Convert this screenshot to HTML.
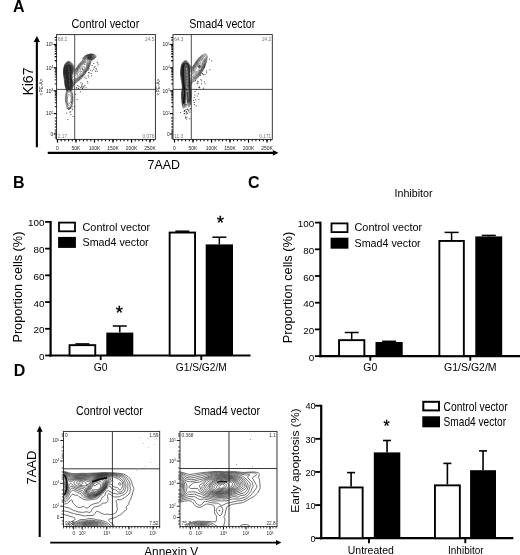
<!DOCTYPE html>
<html><head><meta charset="utf-8"><title>Figure</title>
<style>
html,body{margin:0;padding:0;background:#fff;overflow:hidden;}
svg{display:block;}
svg text{font-family:"Liberation Sans",Arial,sans-serif;}
</style></head>
<body>
<svg width="520" height="555" viewBox="0 0 520 555">
<rect width="520" height="555" fill="#fff"/>
<text x="13.1" y="11.8" font-size="16" text-anchor="start" fill="#000" font-weight="bold" >A</text>
<text x="13" y="187.7" font-size="16" text-anchor="start" fill="#000" font-weight="bold" >B</text>
<text x="248" y="187.6" font-size="16" text-anchor="start" fill="#000" font-weight="bold" >C</text>
<text x="13.8" y="375.7" font-size="16" text-anchor="start" fill="#000" font-weight="bold" >D</text>
<rect x="56.6" y="34.6" width="98.80000000000001" height="104.80000000000001" fill="none" stroke="#222" stroke-width="0.9"/>
<line x1="74.7" y1="34.6" x2="74.7" y2="139.4" stroke="#222" stroke-width="0.8" />
<line x1="56.6" y1="89.4" x2="155.4" y2="89.4" stroke="#222" stroke-width="0.8" />
<text x="53.4" y="46.2" font-size="5" text-anchor="end" fill="#222" >10<tspan dy="-1.7" font-size="3.2">5</tspan></text>
<line x1="53.7" y1="44.5" x2="56.6" y2="44.5" stroke="#000" stroke-width="1.2" />
<text x="53.4" y="69.5" font-size="5" text-anchor="end" fill="#222" >10<tspan dy="-1.7" font-size="3.2">4</tspan></text>
<line x1="53.7" y1="67.8" x2="56.6" y2="67.8" stroke="#000" stroke-width="1.2" />
<text x="53.4" y="92.5" font-size="5" text-anchor="end" fill="#222" >10<tspan dy="-1.7" font-size="3.2">3</tspan></text>
<line x1="53.7" y1="90.8" x2="56.6" y2="90.8" stroke="#000" stroke-width="1.2" />
<text x="53.4" y="115.3" font-size="5" text-anchor="end" fill="#222" >10<tspan dy="-1.7" font-size="3.2">2</tspan></text>
<line x1="53.7" y1="113.6" x2="56.6" y2="113.6" stroke="#000" stroke-width="1.2" />
<text x="53.4" y="135.7" font-size="5" text-anchor="end" fill="#222" >0</text>
<line x1="53.7" y1="134" x2="56.6" y2="134" stroke="#000" stroke-width="1.2" />
<line x1="54.800000000000004" y1="60.786001101029235" x2="56.6" y2="60.786001101029235" stroke="#000" stroke-width="1.0" />
<line x1="54.800000000000004" y1="56.68307476503186" x2="56.6" y2="56.68307476503186" stroke="#000" stroke-width="1.0" />
<line x1="54.800000000000004" y1="53.772002202058474" x2="56.6" y2="53.772002202058474" stroke="#000" stroke-width="1.0" />
<line x1="54.800000000000004" y1="51.513998898970755" x2="56.6" y2="51.513998898970755" stroke="#000" stroke-width="1.0" />
<line x1="54.800000000000004" y1="49.66907586606111" x2="56.6" y2="49.66907586606111" stroke="#000" stroke-width="1.0" />
<line x1="54.800000000000004" y1="48.10921566766781" x2="56.6" y2="48.10921566766781" stroke="#000" stroke-width="1.0" />
<line x1="54.800000000000004" y1="46.75800330308772" x2="56.6" y2="46.75800330308772" stroke="#000" stroke-width="1.0" />
<line x1="54.800000000000004" y1="45.566149530063726" x2="56.6" y2="45.566149530063726" stroke="#000" stroke-width="1.0" />
<line x1="54.800000000000004" y1="83.87631009972843" x2="56.6" y2="83.87631009972843" stroke="#000" stroke-width="1.0" />
<line x1="54.800000000000004" y1="79.82621114144776" x2="56.6" y2="79.82621114144776" stroke="#000" stroke-width="1.0" />
<line x1="54.800000000000004" y1="76.95262019945686" x2="56.6" y2="76.95262019945686" stroke="#000" stroke-width="1.0" />
<line x1="54.800000000000004" y1="74.72368990027157" x2="56.6" y2="74.72368990027157" stroke="#000" stroke-width="1.0" />
<line x1="54.800000000000004" y1="72.90252124117619" x2="56.6" y2="72.90252124117619" stroke="#000" stroke-width="1.0" />
<line x1="54.800000000000004" y1="71.3627450796721" x2="56.6" y2="71.3627450796721" stroke="#000" stroke-width="1.0" />
<line x1="54.800000000000004" y1="70.02893029918529" x2="56.6" y2="70.02893029918529" stroke="#000" stroke-width="1.0" />
<line x1="54.800000000000004" y1="68.85242228289553" x2="56.6" y2="68.85242228289553" stroke="#000" stroke-width="1.0" />
<line x1="54.800000000000004" y1="106.73651609886123" x2="56.6" y2="106.73651609886123" stroke="#000" stroke-width="1.0" />
<line x1="54.800000000000004" y1="102.72163539239169" x2="56.6" y2="102.72163539239169" stroke="#000" stroke-width="1.0" />
<line x1="54.800000000000004" y1="99.87303219772245" x2="56.6" y2="99.87303219772245" stroke="#000" stroke-width="1.0" />
<line x1="54.800000000000004" y1="97.66348390113876" x2="56.6" y2="97.66348390113876" stroke="#000" stroke-width="1.0" />
<line x1="54.800000000000004" y1="95.85815149125293" x2="56.6" y2="95.85815149125293" stroke="#000" stroke-width="1.0" />
<line x1="54.800000000000004" y1="94.33176468767493" x2="56.6" y2="94.33176468767493" stroke="#000" stroke-width="1.0" />
<line x1="54.800000000000004" y1="93.00954829658369" x2="56.6" y2="93.00954829658369" stroke="#000" stroke-width="1.0" />
<line x1="54.800000000000004" y1="91.84327078478339" x2="56.6" y2="91.84327078478339" stroke="#000" stroke-width="1.0" />
<line x1="54.800000000000004" y1="60.786001101029235" x2="56.6" y2="60.786001101029235" stroke="#000" stroke-width="1.0" />
<line x1="54.800000000000004" y1="56.68307476503186" x2="56.6" y2="56.68307476503186" stroke="#000" stroke-width="1.0" />
<line x1="54.800000000000004" y1="53.772002202058474" x2="56.6" y2="53.772002202058474" stroke="#000" stroke-width="1.0" />
<line x1="54.800000000000004" y1="37.5" x2="56.6" y2="37.5" stroke="#000" stroke-width="1.0" />
<line x1="54.800000000000004" y1="40" x2="56.6" y2="40" stroke="#000" stroke-width="1.0" />
<line x1="54.800000000000004" y1="118" x2="56.6" y2="118" stroke="#000" stroke-width="1.0" />
<line x1="54.800000000000004" y1="121" x2="56.6" y2="121" stroke="#000" stroke-width="1.0" />
<line x1="54.800000000000004" y1="124" x2="56.6" y2="124" stroke="#000" stroke-width="1.0" />
<line x1="54.800000000000004" y1="127" x2="56.6" y2="127" stroke="#000" stroke-width="1.0" />
<line x1="54.800000000000004" y1="130" x2="56.6" y2="130" stroke="#000" stroke-width="1.0" />
<line x1="54.800000000000004" y1="132" x2="56.6" y2="132" stroke="#000" stroke-width="1.0" />
<line x1="54.800000000000004" y1="136" x2="56.6" y2="136" stroke="#000" stroke-width="1.0" />
<line x1="54.800000000000004" y1="138" x2="56.6" y2="138" stroke="#000" stroke-width="1.0" />
<line x1="57.5" y1="139.4" x2="57.5" y2="142.6" stroke="#000" stroke-width="1.2" />
<text x="57.5" y="149.6" font-size="5" text-anchor="middle" fill="#222" >0</text>
<line x1="76" y1="139.4" x2="76" y2="142.6" stroke="#000" stroke-width="1.2" />
<text x="76" y="149.6" font-size="5" text-anchor="middle" fill="#222" >50K</text>
<line x1="94.5" y1="139.4" x2="94.5" y2="142.6" stroke="#000" stroke-width="1.2" />
<text x="94.5" y="149.6" font-size="5" text-anchor="middle" fill="#222" >100K</text>
<line x1="113" y1="139.4" x2="113" y2="142.6" stroke="#000" stroke-width="1.2" />
<text x="113" y="149.6" font-size="5" text-anchor="middle" fill="#222" >150K</text>
<line x1="131.5" y1="139.4" x2="131.5" y2="142.6" stroke="#000" stroke-width="1.2" />
<text x="131.5" y="149.6" font-size="5" text-anchor="middle" fill="#222" >200K</text>
<line x1="150" y1="139.4" x2="150" y2="142.6" stroke="#000" stroke-width="1.2" />
<text x="150" y="149.6" font-size="5" text-anchor="middle" fill="#222" >250K</text>
<line x1="57.5" y1="139.4" x2="57.5" y2="141.3" stroke="#000" stroke-width="1.0" />
<line x1="61.2" y1="139.4" x2="61.2" y2="141.3" stroke="#000" stroke-width="1.0" />
<line x1="64.9" y1="139.4" x2="64.9" y2="141.3" stroke="#000" stroke-width="1.0" />
<line x1="68.60000000000001" y1="139.4" x2="68.60000000000001" y2="141.3" stroke="#000" stroke-width="1.0" />
<line x1="72.30000000000001" y1="139.4" x2="72.30000000000001" y2="141.3" stroke="#000" stroke-width="1.0" />
<line x1="76.00000000000001" y1="139.4" x2="76.00000000000001" y2="141.3" stroke="#000" stroke-width="1.0" />
<line x1="79.70000000000002" y1="139.4" x2="79.70000000000002" y2="141.3" stroke="#000" stroke-width="1.0" />
<line x1="83.40000000000002" y1="139.4" x2="83.40000000000002" y2="141.3" stroke="#000" stroke-width="1.0" />
<line x1="87.10000000000002" y1="139.4" x2="87.10000000000002" y2="141.3" stroke="#000" stroke-width="1.0" />
<line x1="90.80000000000003" y1="139.4" x2="90.80000000000003" y2="141.3" stroke="#000" stroke-width="1.0" />
<line x1="94.50000000000003" y1="139.4" x2="94.50000000000003" y2="141.3" stroke="#000" stroke-width="1.0" />
<line x1="98.20000000000003" y1="139.4" x2="98.20000000000003" y2="141.3" stroke="#000" stroke-width="1.0" />
<line x1="101.90000000000003" y1="139.4" x2="101.90000000000003" y2="141.3" stroke="#000" stroke-width="1.0" />
<line x1="105.60000000000004" y1="139.4" x2="105.60000000000004" y2="141.3" stroke="#000" stroke-width="1.0" />
<line x1="109.30000000000004" y1="139.4" x2="109.30000000000004" y2="141.3" stroke="#000" stroke-width="1.0" />
<line x1="113.00000000000004" y1="139.4" x2="113.00000000000004" y2="141.3" stroke="#000" stroke-width="1.0" />
<line x1="116.70000000000005" y1="139.4" x2="116.70000000000005" y2="141.3" stroke="#000" stroke-width="1.0" />
<line x1="120.40000000000005" y1="139.4" x2="120.40000000000005" y2="141.3" stroke="#000" stroke-width="1.0" />
<line x1="124.10000000000005" y1="139.4" x2="124.10000000000005" y2="141.3" stroke="#000" stroke-width="1.0" />
<line x1="127.80000000000005" y1="139.4" x2="127.80000000000005" y2="141.3" stroke="#000" stroke-width="1.0" />
<line x1="131.50000000000006" y1="139.4" x2="131.50000000000006" y2="141.3" stroke="#000" stroke-width="1.0" />
<line x1="135.20000000000005" y1="139.4" x2="135.20000000000005" y2="141.3" stroke="#000" stroke-width="1.0" />
<line x1="138.90000000000003" y1="139.4" x2="138.90000000000003" y2="141.3" stroke="#000" stroke-width="1.0" />
<line x1="142.60000000000002" y1="139.4" x2="142.60000000000002" y2="141.3" stroke="#000" stroke-width="1.0" />
<line x1="146.3" y1="139.4" x2="146.3" y2="141.3" stroke="#000" stroke-width="1.0" />
<line x1="150.0" y1="139.4" x2="150.0" y2="141.3" stroke="#000" stroke-width="1.0" />
<line x1="153.7" y1="139.4" x2="153.7" y2="141.3" stroke="#000" stroke-width="1.0" />
<text x="43.400000000000006" y="87" font-size="4.8" text-anchor="middle" fill="#222" transform="rotate(-90 43.400000000000006 87)" >&lt;PE-A&gt;</text>
<text x="57.800000000000004" y="41.0" font-size="4.8" text-anchor="start" fill="#777" >68.2</text>
<text x="154.4" y="41.0" font-size="4.8" text-anchor="end" fill="#777" >24.5</text>
<text x="57.800000000000004" y="137.6" font-size="4.8" text-anchor="start" fill="#777" >2.17</text>
<text x="154.4" y="137.6" font-size="4.8" text-anchor="end" fill="#777" >0.076</text>
<rect x="173" y="34.6" width="99.30000000000001" height="104.80000000000001" fill="none" stroke="#222" stroke-width="0.9"/>
<line x1="191.3" y1="34.6" x2="191.3" y2="139.4" stroke="#222" stroke-width="0.8" />
<line x1="173" y1="89.4" x2="272.3" y2="89.4" stroke="#222" stroke-width="0.8" />
<text x="169.8" y="46.2" font-size="5" text-anchor="end" fill="#222" >10<tspan dy="-1.7" font-size="3.2">5</tspan></text>
<line x1="170.1" y1="44.5" x2="173" y2="44.5" stroke="#000" stroke-width="1.2" />
<text x="169.8" y="69.5" font-size="5" text-anchor="end" fill="#222" >10<tspan dy="-1.7" font-size="3.2">4</tspan></text>
<line x1="170.1" y1="67.8" x2="173" y2="67.8" stroke="#000" stroke-width="1.2" />
<text x="169.8" y="92.5" font-size="5" text-anchor="end" fill="#222" >10<tspan dy="-1.7" font-size="3.2">3</tspan></text>
<line x1="170.1" y1="90.8" x2="173" y2="90.8" stroke="#000" stroke-width="1.2" />
<text x="169.8" y="115.3" font-size="5" text-anchor="end" fill="#222" >10<tspan dy="-1.7" font-size="3.2">2</tspan></text>
<line x1="170.1" y1="113.6" x2="173" y2="113.6" stroke="#000" stroke-width="1.2" />
<text x="169.8" y="135.7" font-size="5" text-anchor="end" fill="#222" >0</text>
<line x1="170.1" y1="134" x2="173" y2="134" stroke="#000" stroke-width="1.2" />
<line x1="171.2" y1="60.786001101029235" x2="173" y2="60.786001101029235" stroke="#000" stroke-width="1.0" />
<line x1="171.2" y1="56.68307476503186" x2="173" y2="56.68307476503186" stroke="#000" stroke-width="1.0" />
<line x1="171.2" y1="53.772002202058474" x2="173" y2="53.772002202058474" stroke="#000" stroke-width="1.0" />
<line x1="171.2" y1="51.513998898970755" x2="173" y2="51.513998898970755" stroke="#000" stroke-width="1.0" />
<line x1="171.2" y1="49.66907586606111" x2="173" y2="49.66907586606111" stroke="#000" stroke-width="1.0" />
<line x1="171.2" y1="48.10921566766781" x2="173" y2="48.10921566766781" stroke="#000" stroke-width="1.0" />
<line x1="171.2" y1="46.75800330308772" x2="173" y2="46.75800330308772" stroke="#000" stroke-width="1.0" />
<line x1="171.2" y1="45.566149530063726" x2="173" y2="45.566149530063726" stroke="#000" stroke-width="1.0" />
<line x1="171.2" y1="83.87631009972843" x2="173" y2="83.87631009972843" stroke="#000" stroke-width="1.0" />
<line x1="171.2" y1="79.82621114144776" x2="173" y2="79.82621114144776" stroke="#000" stroke-width="1.0" />
<line x1="171.2" y1="76.95262019945686" x2="173" y2="76.95262019945686" stroke="#000" stroke-width="1.0" />
<line x1="171.2" y1="74.72368990027157" x2="173" y2="74.72368990027157" stroke="#000" stroke-width="1.0" />
<line x1="171.2" y1="72.90252124117619" x2="173" y2="72.90252124117619" stroke="#000" stroke-width="1.0" />
<line x1="171.2" y1="71.3627450796721" x2="173" y2="71.3627450796721" stroke="#000" stroke-width="1.0" />
<line x1="171.2" y1="70.02893029918529" x2="173" y2="70.02893029918529" stroke="#000" stroke-width="1.0" />
<line x1="171.2" y1="68.85242228289553" x2="173" y2="68.85242228289553" stroke="#000" stroke-width="1.0" />
<line x1="171.2" y1="106.73651609886123" x2="173" y2="106.73651609886123" stroke="#000" stroke-width="1.0" />
<line x1="171.2" y1="102.72163539239169" x2="173" y2="102.72163539239169" stroke="#000" stroke-width="1.0" />
<line x1="171.2" y1="99.87303219772245" x2="173" y2="99.87303219772245" stroke="#000" stroke-width="1.0" />
<line x1="171.2" y1="97.66348390113876" x2="173" y2="97.66348390113876" stroke="#000" stroke-width="1.0" />
<line x1="171.2" y1="95.85815149125293" x2="173" y2="95.85815149125293" stroke="#000" stroke-width="1.0" />
<line x1="171.2" y1="94.33176468767493" x2="173" y2="94.33176468767493" stroke="#000" stroke-width="1.0" />
<line x1="171.2" y1="93.00954829658369" x2="173" y2="93.00954829658369" stroke="#000" stroke-width="1.0" />
<line x1="171.2" y1="91.84327078478339" x2="173" y2="91.84327078478339" stroke="#000" stroke-width="1.0" />
<line x1="171.2" y1="60.786001101029235" x2="173" y2="60.786001101029235" stroke="#000" stroke-width="1.0" />
<line x1="171.2" y1="56.68307476503186" x2="173" y2="56.68307476503186" stroke="#000" stroke-width="1.0" />
<line x1="171.2" y1="53.772002202058474" x2="173" y2="53.772002202058474" stroke="#000" stroke-width="1.0" />
<line x1="171.2" y1="37.5" x2="173" y2="37.5" stroke="#000" stroke-width="1.0" />
<line x1="171.2" y1="40" x2="173" y2="40" stroke="#000" stroke-width="1.0" />
<line x1="171.2" y1="118" x2="173" y2="118" stroke="#000" stroke-width="1.0" />
<line x1="171.2" y1="121" x2="173" y2="121" stroke="#000" stroke-width="1.0" />
<line x1="171.2" y1="124" x2="173" y2="124" stroke="#000" stroke-width="1.0" />
<line x1="171.2" y1="127" x2="173" y2="127" stroke="#000" stroke-width="1.0" />
<line x1="171.2" y1="130" x2="173" y2="130" stroke="#000" stroke-width="1.0" />
<line x1="171.2" y1="132" x2="173" y2="132" stroke="#000" stroke-width="1.0" />
<line x1="171.2" y1="136" x2="173" y2="136" stroke="#000" stroke-width="1.0" />
<line x1="171.2" y1="138" x2="173" y2="138" stroke="#000" stroke-width="1.0" />
<line x1="174.5" y1="139.4" x2="174.5" y2="142.6" stroke="#000" stroke-width="1.2" />
<text x="174.5" y="149.6" font-size="5" text-anchor="middle" fill="#222" >0</text>
<line x1="193" y1="139.4" x2="193" y2="142.6" stroke="#000" stroke-width="1.2" />
<text x="193" y="149.6" font-size="5" text-anchor="middle" fill="#222" >50K</text>
<line x1="211.5" y1="139.4" x2="211.5" y2="142.6" stroke="#000" stroke-width="1.2" />
<text x="211.5" y="149.6" font-size="5" text-anchor="middle" fill="#222" >100K</text>
<line x1="230" y1="139.4" x2="230" y2="142.6" stroke="#000" stroke-width="1.2" />
<text x="230" y="149.6" font-size="5" text-anchor="middle" fill="#222" >150K</text>
<line x1="248.5" y1="139.4" x2="248.5" y2="142.6" stroke="#000" stroke-width="1.2" />
<text x="248.5" y="149.6" font-size="5" text-anchor="middle" fill="#222" >200K</text>
<line x1="267" y1="139.4" x2="267" y2="142.6" stroke="#000" stroke-width="1.2" />
<text x="267" y="149.6" font-size="5" text-anchor="middle" fill="#222" >250K</text>
<line x1="174.5" y1="139.4" x2="174.5" y2="141.3" stroke="#000" stroke-width="1.0" />
<line x1="178.2" y1="139.4" x2="178.2" y2="141.3" stroke="#000" stroke-width="1.0" />
<line x1="181.89999999999998" y1="139.4" x2="181.89999999999998" y2="141.3" stroke="#000" stroke-width="1.0" />
<line x1="185.59999999999997" y1="139.4" x2="185.59999999999997" y2="141.3" stroke="#000" stroke-width="1.0" />
<line x1="189.29999999999995" y1="139.4" x2="189.29999999999995" y2="141.3" stroke="#000" stroke-width="1.0" />
<line x1="192.99999999999994" y1="139.4" x2="192.99999999999994" y2="141.3" stroke="#000" stroke-width="1.0" />
<line x1="196.69999999999993" y1="139.4" x2="196.69999999999993" y2="141.3" stroke="#000" stroke-width="1.0" />
<line x1="200.39999999999992" y1="139.4" x2="200.39999999999992" y2="141.3" stroke="#000" stroke-width="1.0" />
<line x1="204.0999999999999" y1="139.4" x2="204.0999999999999" y2="141.3" stroke="#000" stroke-width="1.0" />
<line x1="207.7999999999999" y1="139.4" x2="207.7999999999999" y2="141.3" stroke="#000" stroke-width="1.0" />
<line x1="211.4999999999999" y1="139.4" x2="211.4999999999999" y2="141.3" stroke="#000" stroke-width="1.0" />
<line x1="215.19999999999987" y1="139.4" x2="215.19999999999987" y2="141.3" stroke="#000" stroke-width="1.0" />
<line x1="218.89999999999986" y1="139.4" x2="218.89999999999986" y2="141.3" stroke="#000" stroke-width="1.0" />
<line x1="222.59999999999985" y1="139.4" x2="222.59999999999985" y2="141.3" stroke="#000" stroke-width="1.0" />
<line x1="226.29999999999984" y1="139.4" x2="226.29999999999984" y2="141.3" stroke="#000" stroke-width="1.0" />
<line x1="229.99999999999983" y1="139.4" x2="229.99999999999983" y2="141.3" stroke="#000" stroke-width="1.0" />
<line x1="233.69999999999982" y1="139.4" x2="233.69999999999982" y2="141.3" stroke="#000" stroke-width="1.0" />
<line x1="237.3999999999998" y1="139.4" x2="237.3999999999998" y2="141.3" stroke="#000" stroke-width="1.0" />
<line x1="241.0999999999998" y1="139.4" x2="241.0999999999998" y2="141.3" stroke="#000" stroke-width="1.0" />
<line x1="244.79999999999978" y1="139.4" x2="244.79999999999978" y2="141.3" stroke="#000" stroke-width="1.0" />
<line x1="248.49999999999977" y1="139.4" x2="248.49999999999977" y2="141.3" stroke="#000" stroke-width="1.0" />
<line x1="252.19999999999976" y1="139.4" x2="252.19999999999976" y2="141.3" stroke="#000" stroke-width="1.0" />
<line x1="255.89999999999975" y1="139.4" x2="255.89999999999975" y2="141.3" stroke="#000" stroke-width="1.0" />
<line x1="259.59999999999974" y1="139.4" x2="259.59999999999974" y2="141.3" stroke="#000" stroke-width="1.0" />
<line x1="263.2999999999997" y1="139.4" x2="263.2999999999997" y2="141.3" stroke="#000" stroke-width="1.0" />
<line x1="266.9999999999997" y1="139.4" x2="266.9999999999997" y2="141.3" stroke="#000" stroke-width="1.0" />
<line x1="270.6999999999997" y1="139.4" x2="270.6999999999997" y2="141.3" stroke="#000" stroke-width="1.0" />
<text x="159.8" y="87" font-size="4.8" text-anchor="middle" fill="#222" transform="rotate(-90 159.8 87)" >&lt;PE-A&gt;</text>
<text x="174.2" y="41.0" font-size="4.8" text-anchor="start" fill="#777" >64.3</text>
<text x="271.3" y="41.0" font-size="4.8" text-anchor="end" fill="#777" >24.2</text>
<text x="174.2" y="137.6" font-size="4.8" text-anchor="start" fill="#777" >11.3</text>
<text x="271.3" y="137.6" font-size="4.8" text-anchor="end" fill="#777" >0.171</text>
<clipPath id="ca1"><rect x="56.6" y="34.6" width="98.80000000000001" height="104.80000000000001"/></clipPath>
<g clip-path="url(#ca1)" fill="none" stroke="#222" stroke-width="0.5" stroke-linejoin="round">
<path d="M69.1,109.4 L68.8,109.3 L68.6,109.3 L68.3,109.2 L68.1,109.1 L67.8,108.9 L67.6,108.6 L67.4,108.3 L67.1,107.8 L66.9,107.3 L66.8,106.8 L66.4,105.1 L66.0,103.6 L65.8,102.8 L65.6,102.1 L65.5,100.8 L65.4,99.8 L65.4,98.8 L65.7,95.3 L65.9,94.1 L66.4,91.6 L66.5,90.8 L66.3,90.1 L65.2,86.1 L65.0,85.1 L64.7,83.8 L64.6,82.5 L63.7,75.6 L63.5,73.8 L63.5,72.6 L63.5,70.8 L63.6,69.3 L63.7,68.6 L64.0,67.3 L64.2,66.3 L64.5,65.6 L64.7,64.8 L65.0,64.3 L65.2,63.9 L65.5,63.4 L66.1,62.6 L66.3,62.3 L66.8,61.9 L67.3,61.6 L67.8,61.4 L68.3,61.3 L68.6,61.3 L69.3,61.4 L69.6,61.5 L70.1,61.7 L70.8,62.1 L71.4,62.6 L71.9,63.1 L72.5,63.9 L73.0,64.6 L73.3,65.3 L73.7,66.6 L74.3,68.3 L74.5,68.8 L74.6,69.0 L74.8,69.3 L75.1,69.4 L75.3,69.4 L75.6,69.2 L75.8,68.9 L77.5,66.3 L78.2,65.3 L79.0,64.3 L80.5,62.6 L81.9,61.1 L82.4,60.6 L82.6,60.2 L82.7,59.9 L82.8,59.6 L82.8,58.6 L83.0,58.1 L83.0,57.9 L83.2,57.6 L83.5,57.1 L84.0,56.6 L84.3,56.3 L84.8,55.9 L85.6,55.5 L86.6,55.0 L87.1,54.8 L87.8,54.5 L88.8,54.3 L90.1,54.0 L90.8,53.9 L91.3,53.9 L92.3,54.0 L93.6,54.2 L94.1,54.4 L94.6,54.6 L95.1,54.8 L95.4,55.1 L95.7,55.4 L95.8,55.6 L95.9,55.9 L96.0,56.1 L96.0,56.4 L96.0,56.6 L95.8,57.1 L95.5,57.6 L95.3,57.9 L94.6,58.5 L93.6,59.2 L92.2,60.1 L91.8,60.4 L91.6,60.6 L91.4,60.9 L91.2,61.1 L91.1,61.4 L90.7,62.9 L90.2,64.6 L89.7,65.8 L88.5,68.6 L87.9,69.6 L87.3,70.6 L84.7,74.3 L83.2,76.3 L82.2,77.6 L81.0,78.8 L80.3,79.5 L79.8,79.9 L77.8,81.4 L77.3,81.8 L76.0,82.6 L75.3,83.1 L74.9,83.6 L74.6,84.1 L73.8,85.4 L73.3,86.4 L72.6,88.1 L72.3,88.8 L72.0,89.8 L71.9,90.3 L71.9,90.8 L71.9,91.6 L72.4,93.3 L72.7,95.1 L72.9,96.6 L73.0,97.3 L73.0,98.3 L73.0,100.3 L72.8,101.8 L72.7,102.8 L72.4,104.1 L72.0,105.3 L71.3,107.0 L70.9,107.8 L70.6,108.4 L70.1,108.9 L69.6,109.2 L69.3,109.3 L69.1,109.4"/>
<path d="M69.6,107.7 L69.3,107.8 L69.1,107.8 L68.8,107.8 L68.6,107.8 L68.3,107.7 L68.1,107.5 L67.8,107.1 L67.6,106.7 L67.5,106.3 L67.2,105.1 L67.1,104.6 L66.5,103.3 L66.3,102.8 L66.2,102.1 L66.0,101.1 L65.9,100.1 L65.9,99.1 L66.2,95.6 L66.4,94.6 L66.9,92.3 L66.9,91.8 L66.9,91.3 L66.8,90.6 L65.7,87.1 L65.5,86.1 L65.2,84.8 L65.0,83.6 L64.8,81.3 L64.7,79.6 L63.9,75.3 L63.8,74.1 L63.7,72.8 L63.7,71.8 L63.7,70.6 L63.9,68.6 L64.2,67.3 L64.5,66.3 L64.7,65.6 L65.0,64.8 L65.2,64.3 L65.5,63.9 L66.1,63.1 L66.6,62.6 L67.1,62.2 L67.3,62.0 L67.6,61.9 L68.1,61.8 L68.6,61.8 L68.8,61.8 L69.3,61.9 L69.8,62.1 L70.3,62.5 L71.1,63.1 L71.7,63.9 L72.3,64.6 L72.6,65.1 L72.8,65.6 L73.2,66.8 L73.8,68.7 L74.1,69.4 L74.3,69.8 L74.6,70.1 L74.8,70.2 L75.1,70.2 L75.3,70.1 L75.6,70.0 L75.8,69.7 L76.1,69.4 L77.0,67.8 L77.7,66.8 L78.7,65.3 L79.5,64.3 L81.0,62.6 L81.6,62.0 L82.9,60.9 L83.3,60.4 L83.4,60.1 L83.5,59.9 L83.5,58.6 L83.5,58.4 L83.7,57.9 L83.9,57.4 L84.1,57.1 L84.6,56.6 L84.8,56.4 L85.3,56.0 L85.8,55.7 L86.8,55.2 L87.3,55.0 L88.3,54.7 L89.3,54.5 L90.1,54.3 L91.1,54.2 L91.6,54.2 L92.1,54.3 L93.1,54.5 L93.6,54.6 L94.1,54.9 L94.5,55.1 L94.8,55.4 L95.0,55.6 L95.2,55.9 L95.3,56.1 L95.3,56.4 L95.2,56.9 L95.2,57.1 L95.0,57.4 L94.7,57.9 L94.1,58.4 L93.3,59.0 L91.5,60.1 L91.1,60.4 L90.9,60.6 L90.7,60.9 L90.5,61.4 L90.2,62.9 L89.7,64.6 L89.2,65.8 L88.3,68.1 L87.9,68.8 L87.5,69.6 L85.6,72.3 L84.8,73.6 L84.2,74.3 L82.5,76.6 L81.4,77.8 L80.4,78.8 L79.6,79.5 L77.6,81.0 L75.6,82.2 L75.1,82.6 L74.9,82.8 L74.3,83.6 L73.3,85.1 L73.1,85.5 L72.8,86.1 L71.6,89.7 L71.3,90.6 L71.2,91.3 L71.2,91.6 L71.3,92.1 L71.7,93.3 L72.0,94.3 L72.3,95.8 L72.5,97.1 L72.5,98.1 L72.5,99.8 L72.4,100.8 L72.3,101.8 L72.1,102.8 L71.8,103.8 L71.6,104.5 L70.9,106.1 L70.6,106.7 L70.3,107.0 L70.1,107.3 L69.8,107.5 L69.6,107.7"/>
<path d="M69.1,106.1 L68.8,106.1 L68.6,105.9 L68.4,105.6 L67.9,104.3 L67.2,103.1 L66.9,102.6 L66.8,102.1 L66.7,101.6 L66.6,100.6 L66.6,99.3 L66.6,98.3 L66.8,95.8 L66.9,95.3 L67.0,94.8 L67.4,93.3 L67.5,92.8 L67.5,92.3 L67.5,91.8 L67.4,91.3 L67.3,90.8 L66.2,88.1 L65.7,86.3 L65.5,85.3 L65.3,83.8 L65.1,80.8 L65.0,79.3 L64.8,78.6 L64.2,75.6 L64.0,74.1 L63.9,72.8 L63.9,71.6 L63.9,70.3 L64.0,69.3 L64.2,68.1 L64.5,66.8 L64.9,65.6 L65.2,64.8 L65.6,64.1 L66.2,63.4 L66.6,63.0 L66.8,62.7 L67.3,62.4 L67.8,62.3 L68.1,62.2 L68.6,62.2 L68.8,62.2 L69.3,62.4 L69.8,62.6 L70.3,63.0 L70.9,63.6 L71.5,64.3 L72.0,65.1 L72.3,65.6 L72.4,66.1 L73.6,69.6 L73.8,70.2 L74.1,70.7 L74.3,71.0 L74.6,71.1 L74.8,71.1 L75.1,71.0 L75.3,70.9 L75.6,70.7 L76.1,70.1 L76.6,69.4 L77.5,67.8 L78.0,67.1 L79.2,65.3 L80.5,63.9 L81.1,63.1 L81.6,62.6 L82.3,62.0 L83.4,61.1 L83.9,60.6 L84.1,60.4 L84.2,60.1 L84.2,59.9 L84.1,58.6 L84.1,58.1 L84.2,57.9 L84.4,57.4 L84.8,56.9 L85.1,56.6 L85.6,56.2 L86.1,55.9 L87.1,55.4 L87.6,55.2 L88.3,55.0 L89.8,54.6 L90.8,54.5 L91.6,54.5 L92.6,54.7 L93.1,54.9 L93.6,55.1 L94.0,55.4 L94.3,55.6 L94.5,55.9 L94.6,56.1 L94.7,56.4 L94.7,56.6 L94.7,56.9 L94.5,57.4 L94.1,57.9 L93.9,58.1 L93.3,58.6 L92.3,59.2 L90.7,60.1 L90.3,60.4 L90.1,60.6 L89.9,60.9 L89.8,61.1 L89.8,61.4 L89.6,62.9 L89.3,64.3 L88.8,65.8 L88.0,67.8 L87.7,68.6 L87.2,69.3 L85.6,71.6 L84.3,73.6 L82.0,76.6 L81.1,77.6 L80.1,78.6 L79.6,79.0 L78.8,79.5 L77.3,80.5 L75.6,81.6 L74.8,82.2 L74.5,82.6 L74.1,83.1 L73.1,84.6 L72.8,85.0 L72.6,85.5 L71.8,88.3 L71.3,89.6 L70.7,91.1 L70.5,91.6 L70.5,91.8 L70.5,92.1 L70.5,92.6 L71.1,94.0 L71.4,94.8 L71.7,95.8 L71.9,96.8 L71.9,97.8 L71.9,99.8 L71.9,100.8 L71.7,101.8 L71.6,102.4 L71.4,103.1 L71.1,103.7 L70.8,104.2 L70.1,105.3 L69.8,105.7 L69.6,105.9 L69.3,106.1 L69.1,106.1"/>
<path d="M68.8,92.4 L68.6,92.3 L68.3,92.0 L68.1,91.6 L67.6,90.7 L67.2,89.8 L66.7,88.8 L66.4,88.1 L66.2,87.3 L65.8,85.8 L65.5,84.6 L65.4,83.8 L65.3,80.1 L65.2,79.1 L65.1,78.5 L64.3,75.1 L64.2,74.1 L64.1,72.8 L64.0,71.6 L64.1,69.8 L64.2,68.8 L64.5,67.6 L64.9,66.1 L65.2,65.3 L65.5,64.8 L65.7,64.3 L66.3,63.6 L66.8,63.1 L67.3,62.8 L67.8,62.6 L68.3,62.6 L68.6,62.6 L69.1,62.7 L69.6,62.9 L70.1,63.3 L70.7,63.9 L71.3,64.6 L71.7,65.3 L72.0,65.8 L72.5,67.3 L73.3,70.8 L73.6,71.5 L73.8,71.9 L74.1,72.1 L74.3,72.1 L74.6,72.1 L74.8,72.0 L75.3,71.6 L75.8,71.2 L76.1,70.8 L76.6,70.2 L77.5,68.6 L78.1,67.6 L79.8,65.3 L81.1,63.7 L81.7,63.1 L82.3,62.5 L83.1,61.9 L84.3,61.1 L84.5,60.9 L84.8,60.6 L84.9,60.4 L85.0,60.1 L84.9,59.9 L84.6,58.9 L84.6,58.4 L84.6,58.1 L84.8,57.6 L84.9,57.4 L85.3,56.8 L85.6,56.6 L86.1,56.2 L86.6,55.9 L87.1,55.7 L87.6,55.5 L88.3,55.2 L89.8,54.9 L90.8,54.8 L91.6,54.8 L92.1,54.9 L92.6,55.0 L93.1,55.3 L93.3,55.4 L93.7,55.6 L93.9,55.9 L94.1,56.1 L94.1,56.4 L94.2,56.6 L94.2,56.9 L94.0,57.4 L93.7,57.9 L93.2,58.4 L92.3,58.9 L91.3,59.4 L89.8,60.1 L89.4,60.4 L89.1,60.6 L89.0,60.9 L88.9,61.1 L88.9,62.4 L88.9,63.1 L88.8,64.1 L88.6,64.8 L88.3,66.1 L87.7,67.6 L87.4,68.3 L86.9,69.1 L85.6,70.9 L83.9,73.6 L81.9,76.1 L81.1,77.0 L80.1,78.0 L79.6,78.4 L79.1,78.8 L77.3,79.9 L75.8,80.7 L75.3,81.1 L74.6,81.7 L73.9,82.6 L73.1,83.7 L72.8,84.1 L72.6,84.7 L72.3,85.4 L71.7,87.6 L71.5,88.3 L71.2,89.1 L70.7,90.1 L70.1,91.1 L69.8,91.5 L69.3,92.2 L69.1,92.3 L68.8,92.4 M69.8,103.2 L69.6,103.3 L69.3,103.3 L69.1,103.2 L68.6,103.0 L68.1,102.6 L67.8,102.3 L67.6,101.9 L67.4,101.1 L67.4,100.6 L67.4,99.8 L67.5,98.3 L67.7,97.1 L67.7,96.1 L67.8,95.6 L67.8,95.3 L68.1,94.9 L68.3,94.6 L68.6,94.4 L68.8,94.4 L69.1,94.5 L69.8,94.9 L70.3,95.3 L70.6,95.6 L70.8,96.0 L71.0,96.6 L71.1,96.9 L71.2,97.6 L71.2,99.3 L71.2,100.1 L71.1,100.8 L70.8,101.8 L70.6,102.4 L70.3,102.8 L70.1,103.0 L69.8,103.2"/>
<path d="M69.3,91.2 L69.1,91.3 L68.8,91.3 L68.6,91.2 L68.3,91.1 L68.1,90.8 L67.8,90.5 L67.4,89.8 L66.9,88.8 L66.5,87.6 L65.9,85.8 L65.7,84.6 L65.6,83.6 L65.5,79.8 L65.4,79.1 L65.3,78.5 L65.1,77.4 L64.6,75.3 L64.4,74.6 L64.2,73.1 L64.2,71.6 L64.2,70.6 L64.3,69.6 L64.4,68.6 L64.7,67.6 L64.9,66.6 L65.2,65.8 L65.5,65.1 L65.8,64.6 L66.3,63.9 L66.8,63.5 L67.3,63.1 L67.8,63.0 L68.1,62.9 L68.6,62.9 L69.1,63.1 L69.6,63.3 L70.1,63.7 L70.6,64.2 L71.1,64.8 L71.4,65.3 L71.7,66.1 L72.0,66.8 L72.3,67.8 L72.7,70.1 L73.0,72.1 L73.1,72.4 L73.2,72.6 L73.3,72.9 L73.6,73.0 L73.8,73.1 L74.1,73.2 L74.3,73.1 L74.6,73.1 L74.8,72.9 L75.3,72.5 L76.5,71.1 L76.9,70.6 L77.8,68.8 L78.3,68.0 L80.5,65.1 L81.6,63.9 L82.3,63.1 L82.9,62.6 L83.6,62.1 L84.5,61.6 L85.3,61.1 L85.9,60.6 L86.0,60.4 L86.0,60.1 L85.3,59.1 L85.1,58.6 L85.1,58.4 L85.1,58.1 L85.1,57.9 L85.2,57.6 L85.6,57.1 L85.8,56.9 L86.1,56.6 L86.6,56.2 L87.1,56.0 L87.6,55.7 L88.6,55.4 L89.8,55.1 L90.3,55.1 L90.8,55.0 L91.6,55.1 L92.3,55.3 L93.0,55.6 L93.3,55.9 L93.5,56.1 L93.6,56.4 L93.7,56.6 L93.7,56.9 L93.6,57.1 L93.6,57.4 L93.4,57.6 L93.0,58.1 L92.3,58.6 L91.8,58.9 L91.3,59.1 L90.6,59.4 L89.1,59.9 L88.4,60.1 L87.8,60.4 L87.5,60.6 L87.5,60.9 L87.9,61.6 L88.0,61.9 L88.1,62.4 L88.2,63.1 L88.2,64.1 L88.1,64.8 L87.9,65.6 L87.5,67.1 L87.1,68.1 L86.7,68.8 L85.3,70.6 L84.6,71.6 L83.9,72.8 L83.5,73.3 L82.5,74.6 L81.6,75.8 L80.8,76.7 L80.3,77.2 L79.6,77.9 L79.1,78.2 L78.6,78.6 L77.1,79.5 L75.6,80.1 L75.2,80.3 L74.6,80.9 L73.4,82.3 L73.1,82.7 L72.8,83.2 L72.6,83.9 L72.1,85.4 L71.5,87.6 L71.3,88.3 L71.1,88.8 L70.6,89.7 L70.2,90.3 L69.8,90.8 L69.6,91.0 L69.3,91.2"/>
<path d="M88.3,59.6 L87.6,59.7 L87.3,59.7 L86.8,59.6 L86.6,59.5 L86.3,59.4 L86.1,59.2 L85.8,58.9 L85.7,58.6 L85.6,58.4 L85.6,58.1 L85.6,57.9 L85.7,57.6 L85.8,57.4 L86.0,57.1 L86.6,56.6 L86.9,56.4 L87.3,56.1 L88.1,55.8 L89.3,55.5 L90.1,55.3 L90.6,55.3 L91.3,55.3 L91.8,55.4 L92.1,55.5 L92.6,55.7 L93.0,56.1 L93.2,56.4 L93.2,56.6 L93.3,56.9 L93.2,57.1 L93.1,57.4 L93.0,57.6 L92.8,57.9 L92.3,58.3 L91.6,58.7 L90.8,59.0 L90.1,59.3 L88.3,59.6 M69.3,90.6 L69.1,90.7 L68.8,90.7 L68.6,90.7 L68.3,90.5 L68.1,90.3 L67.8,90.0 L67.4,89.3 L67.0,88.3 L66.5,87.1 L66.1,85.6 L65.9,85.1 L65.8,84.3 L65.7,83.3 L65.7,79.6 L65.6,78.9 L65.3,77.5 L64.8,75.3 L64.5,74.3 L64.4,73.1 L64.3,71.6 L64.4,70.6 L64.5,69.6 L64.6,68.8 L64.8,67.8 L65.0,66.8 L65.3,66.1 L65.5,65.6 L65.8,64.9 L66.3,64.3 L66.8,63.8 L67.3,63.5 L67.8,63.3 L68.1,63.3 L68.6,63.3 L69.1,63.4 L69.3,63.5 L69.8,63.9 L70.3,64.3 L70.8,65.0 L71.2,65.6 L71.6,66.3 L71.9,67.6 L72.2,68.8 L72.5,70.3 L72.5,71.1 L72.7,72.8 L72.8,73.7 L73.1,74.1 L73.3,74.2 L73.8,74.4 L74.3,74.4 L74.6,74.3 L74.8,74.2 L75.1,74.0 L75.3,73.7 L76.2,72.3 L77.2,71.1 L77.5,70.6 L78.1,69.3 L78.9,68.1 L81.1,65.2 L82.3,63.9 L82.7,63.4 L83.3,62.9 L83.8,62.5 L84.3,62.3 L85.3,61.8 L85.8,61.7 L86.1,61.7 L86.3,61.7 L86.7,61.9 L86.8,61.9 L87.1,62.2 L87.3,62.6 L87.4,62.9 L87.5,63.4 L87.5,64.1 L87.4,65.3 L87.2,66.6 L86.9,67.6 L86.7,68.1 L86.5,68.3 L86.1,68.9 L85.4,69.6 L85.0,70.1 L84.4,71.1 L83.5,72.6 L83.2,73.1 L82.1,74.3 L81.1,75.8 L80.4,76.6 L79.8,77.1 L79.1,77.6 L78.1,78.3 L76.8,78.9 L75.5,79.3 L75.0,79.6 L74.6,79.9 L73.1,81.6 L72.8,82.0 L71.8,85.6 L71.5,87.1 L71.2,87.8 L71.0,88.3 L70.6,89.2 L70.2,89.8 L69.8,90.2 L69.6,90.5 L69.3,90.6"/>
<path d="M88.8,59.1 L88.1,59.2 L87.6,59.2 L87.1,59.1 L86.8,59.0 L86.6,58.8 L86.3,58.6 L86.2,58.4 L86.1,58.1 L86.1,57.9 L86.2,57.6 L86.3,57.4 L86.5,57.1 L86.8,56.9 L87.1,56.6 L87.5,56.4 L87.8,56.2 L88.3,56.0 L88.8,55.9 L90.1,55.6 L90.8,55.5 L91.3,55.6 L91.6,55.7 L92.1,55.9 L92.4,56.1 L92.6,56.4 L92.8,56.6 L92.8,56.9 L92.8,57.1 L92.7,57.4 L92.5,57.6 L92.3,57.9 L92.0,58.1 L91.6,58.4 L90.8,58.7 L90.1,58.9 L88.8,59.1 M69.3,90.1 L69.1,90.2 L68.8,90.2 L68.6,90.1 L68.3,90.0 L67.9,89.6 L67.6,89.1 L67.1,88.1 L66.5,86.6 L66.2,85.3 L66.0,84.3 L65.9,83.6 L65.9,79.8 L65.8,79.1 L65.6,77.6 L65.5,77.1 L65.3,76.5 L64.9,75.1 L64.7,74.1 L64.6,72.8 L64.5,71.6 L64.5,70.6 L64.6,69.6 L64.7,68.8 L64.9,67.8 L65.1,67.1 L65.4,66.3 L65.7,65.6 L66.0,65.1 L66.3,64.7 L66.6,64.4 L67.1,64.0 L67.6,63.7 L67.8,63.7 L68.3,63.6 L68.6,63.6 L69.1,63.8 L69.3,63.9 L69.8,64.3 L70.4,64.8 L70.9,65.6 L71.3,66.3 L71.5,67.1 L71.8,67.8 L72.0,69.1 L72.2,70.6 L72.3,71.6 L72.3,74.3 L72.2,75.8 L72.2,76.3 L72.3,77.0 L72.6,77.4 L72.8,77.4 L73.1,77.2 L73.7,76.6 L74.1,76.4 L74.8,76.1 L75.1,75.9 L75.3,75.7 L75.7,75.3 L76.0,74.8 L76.3,74.3 L76.7,73.1 L76.9,72.6 L77.1,72.3 L78.0,71.1 L78.6,69.9 L79.3,68.9 L79.9,67.8 L80.6,67.0 L82.1,65.3 L82.3,65.0 L82.9,64.1 L83.3,63.6 L83.6,63.4 L83.8,63.2 L84.1,63.0 L84.6,62.9 L85.1,62.8 L85.6,62.7 L85.8,62.8 L86.1,62.9 L86.3,63.1 L86.5,63.4 L86.6,63.6 L86.7,64.1 L86.7,64.6 L86.3,67.3 L86.3,67.6 L86.0,68.1 L85.8,68.3 L85.0,69.1 L84.6,69.6 L82.8,72.4 L82.6,72.7 L81.8,73.5 L81.6,73.8 L81.3,74.1 L80.8,75.1 L80.6,75.4 L80.3,75.8 L79.8,76.3 L79.1,76.8 L78.6,77.2 L78.1,77.5 L77.6,77.8 L76.6,78.2 L76.1,78.3 L75.1,78.4 L74.6,78.6 L74.2,78.8 L73.6,79.4 L73.1,79.7 L73.0,79.8 L72.8,80.0 L72.6,80.8 L72.2,83.6 L71.3,86.8 L71.1,87.6 L70.8,88.3 L70.3,89.1 L69.8,89.7 L69.6,90.0 L69.3,90.1"/>
<path d="M90.1,58.6 L88.6,58.8 L88.1,58.8 L87.6,58.7 L87.3,58.6 L87.0,58.4 L86.8,58.1 L86.7,57.9 L86.8,57.6 L86.9,57.4 L87.1,57.1 L87.3,56.9 L87.6,56.7 L88.1,56.4 L88.8,56.2 L89.8,55.9 L90.6,55.9 L91.1,55.9 L91.3,56.0 L91.6,56.1 L91.8,56.2 L92.1,56.4 L92.2,56.6 L92.3,56.9 L92.3,57.1 L92.2,57.4 L92.0,57.6 L91.8,57.9 L91.6,58.0 L91.1,58.3 L90.6,58.5 L90.1,58.6 M69.1,89.7 L68.8,89.7 L68.6,89.6 L68.3,89.5 L68.0,89.1 L67.6,88.6 L67.3,88.0 L67.1,87.3 L66.6,86.1 L66.3,85.1 L66.2,84.6 L66.1,83.8 L66.1,79.8 L66.0,78.8 L65.8,77.8 L65.6,76.6 L65.1,74.8 L64.9,74.1 L64.8,73.1 L64.7,71.8 L64.7,70.3 L64.9,68.8 L65.1,68.1 L65.3,67.3 L65.5,66.6 L65.7,66.1 L66.0,65.6 L66.3,65.1 L66.6,64.8 L66.8,64.6 L67.3,64.2 L67.6,64.1 L68.1,64.0 L68.3,64.0 L68.6,64.0 L69.1,64.2 L69.6,64.5 L70.0,64.8 L70.3,65.2 L70.6,65.6 L70.9,66.1 L71.2,66.8 L71.6,68.1 L71.8,69.1 L71.9,70.3 L72.0,71.6 L72.0,73.8 L71.8,75.3 L71.8,76.1 L71.8,76.9 L72.2,78.8 L72.2,79.6 L72.2,80.3 L72.2,81.3 L72.0,83.1 L71.9,83.8 L71.2,86.6 L70.9,87.3 L70.7,87.8 L70.3,88.6 L69.8,89.2 L69.6,89.4 L69.3,89.6 L69.1,89.7 M84.8,64.9 L84.6,65.1 L84.3,65.0 L84.2,64.8 L84.1,64.6 L84.1,64.6 L84.2,64.3 L84.3,64.1 L84.6,64.1 L84.8,64.1 L85.1,64.3 L85.1,64.6 L84.9,64.8 L84.8,64.9 M77.3,76.6 L77.1,76.5 L77.0,76.3 L77.0,76.1 L77.1,75.7 L77.5,74.8 L77.6,74.3 L77.7,73.3 L77.8,72.9 L78.1,72.5 L79.2,71.6 L79.7,70.8 L80.3,70.3 L80.4,70.1 L80.5,69.8 L80.6,69.1 L80.7,68.6 L80.8,68.3 L81.0,68.1 L81.2,67.8 L81.6,67.5 L81.8,67.4 L82.3,67.1 L83.8,66.7 L84.1,66.7 L84.3,66.8 L84.5,66.8 L84.7,67.1 L84.9,67.3 L84.8,67.6 L84.7,67.8 L84.3,68.3 L84.1,68.7 L83.5,69.8 L83.1,70.5 L82.6,71.1 L82.3,71.2 L82.1,71.4 L81.8,71.4 L81.6,71.4 L80.8,71.4 L80.6,71.4 L80.4,71.6 L80.3,71.8 L80.2,72.1 L80.3,72.8 L80.2,73.3 L79.8,74.2 L79.5,74.8 L79.3,75.1 L79.1,75.4 L78.4,76.1 L78.1,76.3 L77.8,76.5 L77.6,76.6 L77.3,76.6"/>
<path d="M90.1,58.4 L89.3,58.5 L88.6,58.6 L88.1,58.5 L87.8,58.5 L87.6,58.4 L87.3,58.1 L87.2,57.9 L87.2,57.6 L87.3,57.4 L87.5,57.1 L87.7,56.9 L88.2,56.6 L88.8,56.4 L89.8,56.2 L90.6,56.1 L91.1,56.2 L91.3,56.2 L91.6,56.4 L91.8,56.6 L91.9,56.9 L91.9,57.1 L91.9,57.4 L91.7,57.6 L91.4,57.9 L91.0,58.1 L90.6,58.3 L90.1,58.4 M69.1,89.4 L68.8,89.4 L68.6,89.3 L68.3,89.1 L68.1,88.9 L67.8,88.6 L67.6,88.1 L67.2,87.3 L66.7,85.8 L66.4,85.1 L66.3,84.6 L66.3,83.8 L66.2,79.8 L66.1,78.8 L65.8,76.6 L65.6,75.9 L65.2,74.6 L65.0,73.8 L64.9,73.1 L64.8,72.1 L64.8,70.6 L64.9,69.3 L65.2,67.8 L65.5,67.1 L65.7,66.6 L65.8,66.1 L66.1,65.7 L66.3,65.3 L66.6,65.0 L66.8,64.8 L67.3,64.5 L67.8,64.3 L68.1,64.2 L68.6,64.3 L68.8,64.3 L69.3,64.6 L69.7,64.8 L70.1,65.2 L70.4,65.6 L70.7,66.1 L71.0,66.8 L71.2,67.3 L71.4,68.1 L71.8,70.1 L71.9,71.3 L71.9,72.6 L71.6,75.8 L71.7,76.8 L71.9,78.8 L72.0,80.1 L72.0,81.6 L72.0,82.3 L71.9,83.1 L71.7,84.1 L71.0,86.6 L70.8,87.2 L70.6,87.8 L70.3,88.3 L69.8,88.9 L69.6,89.1 L69.3,89.3 L69.1,89.4 M82.6,69.6 L82.3,69.6 L82.1,69.3 L82.0,69.1 L82.1,68.8 L82.3,68.6 L82.6,68.6 L82.7,68.6 L82.8,68.8 L82.9,68.8 L82.9,69.1 L82.8,69.2 L82.8,69.3 L82.6,69.6" fill="#262626" fill-rule="evenodd"/>
</g>
<path d="M68,107.3 l1.3,1.6 l1.6,-1.7" stroke="#111" stroke-width="0.9" fill="none"/>
<path d="M68.6,67 C69.4,73 69.5,80 69.4,87" stroke="#8a8a8a" stroke-width="0.7" fill="none" stroke-dasharray="1.2 1"/>
<rect x="87.4" y="82.8" width="0.9" height="0.9" fill="#222"/>
<rect x="78.5" y="86.2" width="0.9" height="0.9" fill="#222"/>
<rect x="79.9" y="87.2" width="0.9" height="0.9" fill="#222"/>
<rect x="88.3" y="76.5" width="0.9" height="0.9" fill="#222"/>
<rect x="87.7" y="74.9" width="0.9" height="0.9" fill="#222"/>
<rect x="79.3" y="77.1" width="0.9" height="0.9" fill="#222"/>
<rect x="84.4" y="76.6" width="0.9" height="0.9" fill="#222"/>
<rect x="81.6" y="85.7" width="0.9" height="0.9" fill="#222"/>
<rect x="83.7" y="86.4" width="0.9" height="0.9" fill="#222"/>
<rect x="95.6" y="68.1" width="0.9" height="0.9" fill="#222"/>
<rect x="88.8" y="72.5" width="0.9" height="0.9" fill="#222"/>
<rect x="82.2" y="87.9" width="0.9" height="0.9" fill="#222"/>
<rect x="89.8" y="69.7" width="0.9" height="0.9" fill="#222"/>
<rect x="88.0" y="72.2" width="0.9" height="0.9" fill="#222"/>
<rect x="93.2" y="63.0" width="0.9" height="0.9" fill="#222"/>
<rect x="84.8" y="70.8" width="0.9" height="0.9" fill="#222"/>
<rect x="91.0" y="75.3" width="0.9" height="0.9" fill="#222"/>
<rect x="78.0" y="87.9" width="0.9" height="0.9" fill="#222"/>
<rect x="81.5" y="84.5" width="0.9" height="0.9" fill="#222"/>
<rect x="91.8" y="65.1" width="0.9" height="0.9" fill="#222"/>
<rect x="93.8" y="67.0" width="0.9" height="0.9" fill="#222"/>
<rect x="87.8" y="69.6" width="0.9" height="0.9" fill="#222"/>
<rect x="97.3" y="62.6" width="0.9" height="0.9" fill="#222"/>
<rect x="95.1" y="70.8" width="0.9" height="0.9" fill="#222"/>
<rect x="95.8" y="69.3" width="0.9" height="0.9" fill="#222"/>
<rect x="81.8" y="83.4" width="0.9" height="0.9" fill="#222"/>
<rect x="78.4" y="88.8" width="0.9" height="0.9" fill="#222"/>
<rect x="85.6" y="87.3" width="0.9" height="0.9" fill="#222"/>
<rect x="81.9" y="88.1" width="0.9" height="0.9" fill="#222"/>
<rect x="97.6" y="64.4" width="0.9" height="0.9" fill="#222"/>
<rect x="92.8" y="68.8" width="0.9" height="0.9" fill="#222"/>
<rect x="94.6" y="66.1" width="0.9" height="0.9" fill="#222"/>
<rect x="90.7" y="73.2" width="0.9" height="0.9" fill="#222"/>
<rect x="83.0" y="86.4" width="0.9" height="0.9" fill="#222"/>
<rect x="80.4" y="82.4" width="0.9" height="0.9" fill="#222"/>
<rect x="86.8" y="81.2" width="0.9" height="0.9" fill="#222"/>
<rect x="80.5" y="74.9" width="0.9" height="0.9" fill="#222"/>
<rect x="88.5" y="67.9" width="0.9" height="0.9" fill="#222"/>
<rect x="96.7" y="70.9" width="0.9" height="0.9" fill="#222"/>
<rect x="96.7" y="61.8" width="0.9" height="0.9" fill="#222"/>
<rect x="85.6" y="78.1" width="0.9" height="0.9" fill="#222"/>
<rect x="91.8" y="70.4" width="0.9" height="0.9" fill="#222"/>
<rect x="84.5" y="85.1" width="0.9" height="0.9" fill="#222"/>
<rect x="81.9" y="87.4" width="0.9" height="0.9" fill="#222"/>
<rect x="81.0" y="86.5" width="0.9" height="0.9" fill="#222"/>
<rect x="71.1" y="102.1" width="0.9" height="0.9" fill="#222"/>
<rect x="69.5" y="111.7" width="0.9" height="0.9" fill="#222"/>
<rect x="66.3" y="112.7" width="0.9" height="0.9" fill="#222"/>
<rect x="72.5" y="116.1" width="0.9" height="0.9" fill="#222"/>
<rect x="71.6" y="107.7" width="0.9" height="0.9" fill="#222"/>
<rect x="66.7" y="108.3" width="0.9" height="0.9" fill="#222"/>
<rect x="70.3" y="111.3" width="0.9" height="0.9" fill="#222"/>
<rect x="67.4" y="119.2" width="0.9" height="0.9" fill="#222"/>
<rect x="68.4" y="109.1" width="0.9" height="0.9" fill="#222"/>
<rect x="71.7" y="105.8" width="0.9" height="0.9" fill="#222"/>
<rect x="70.4" y="114.0" width="0.9" height="0.9" fill="#222"/>
<rect x="71.9" y="109.2" width="0.9" height="0.9" fill="#222"/>
<rect x="74.3" y="106.4" width="0.9" height="0.9" fill="#222"/>
<rect x="67.2" y="103.6" width="0.9" height="0.9" fill="#222"/>
<rect x="75.2" y="93.8" width="0.9" height="0.9" fill="#222"/>
<rect x="76.3" y="87.1" width="0.9" height="0.9" fill="#222"/>
<rect x="76.3" y="88.5" width="0.9" height="0.9" fill="#222"/>
<rect x="76.6" y="99.2" width="0.9" height="0.9" fill="#222"/>
<rect x="79.9" y="91.3" width="0.9" height="0.9" fill="#222"/>
<rect x="77.3" y="85.1" width="0.9" height="0.9" fill="#222"/>
<clipPath id="ca2"><rect x="173" y="34.6" width="99.30000000000001" height="104.80000000000001"/></clipPath>
<g clip-path="url(#ca2)" fill="none" stroke="#222" stroke-width="0.5" stroke-linejoin="round">
<path d="M184.0,108.1 L183.8,108.2 L183.5,108.2 L183.2,107.9 L182.9,107.3 L182.7,106.6 L182.4,105.6 L182.1,103.3 L181.9,102.1 L181.8,100.6 L181.6,96.3 L181.6,93.8 L181.7,93.1 L181.9,90.8 L182.2,87.8 L182.3,87.1 L182.2,86.3 L182.2,85.3 L182.0,83.8 L181.8,82.4 L181.4,80.6 L181.1,79.1 L180.9,77.6 L180.7,75.1 L180.6,73.1 L180.7,71.6 L180.8,69.8 L181.1,67.1 L181.4,65.8 L181.9,64.3 L182.3,63.4 L182.6,62.9 L182.9,62.4 L183.5,61.6 L184.0,61.1 L184.5,60.8 L185.0,60.6 L185.5,60.6 L186.0,60.6 L186.2,60.7 L186.8,61.0 L187.2,61.4 L187.6,61.9 L188.4,62.9 L189.8,65.1 L191.0,67.0 L191.2,67.3 L191.3,67.3 L191.5,67.5 L191.8,67.5 L192.0,67.4 L192.2,67.1 L192.8,66.6 L193.2,65.9 L196.6,60.6 L197.1,59.9 L197.7,59.1 L199.0,57.7 L199.5,57.2 L200.8,56.1 L201.5,55.5 L202.5,54.9 L203.5,54.4 L204.0,54.2 L204.8,54.0 L205.2,53.9 L205.5,54.0 L206.0,54.1 L206.2,54.2 L206.6,54.6 L206.9,55.1 L207.1,55.6 L207.2,56.1 L207.3,56.9 L207.3,57.4 L207.2,58.1 L207.1,58.9 L206.7,60.4 L206.5,61.6 L206.4,62.4 L206.1,63.1 L204.9,66.6 L204.3,67.8 L202.6,71.1 L202.2,71.8 L200.1,74.8 L199.4,75.8 L198.2,77.3 L197.5,78.1 L197.0,78.6 L194.8,80.6 L193.1,81.8 L192.5,82.4 L192.0,83.1 L191.5,83.8 L191.2,84.5 L190.9,85.3 L190.8,85.9 L190.7,86.3 L190.6,87.3 L190.6,88.1 L190.9,90.3 L190.9,91.3 L191.1,95.3 L191.0,96.8 L190.8,100.8 L190.6,102.3 L190.3,104.3 L190.1,105.1 L189.8,105.8 L189.5,106.5 L189.2,106.8 L189.0,106.9 L188.8,106.9 L188.5,106.7 L188.2,106.4 L187.5,105.0 L187.2,104.7 L187.0,104.4 L186.8,104.3 L186.5,104.2 L186.2,104.3 L186.0,104.4 L185.8,104.7 L185.5,105.2 L185.2,106.1 L184.8,106.8 L184.4,107.6 L184.2,107.9 L184.0,108.1"/>
<path d="M183.8,107.1 L183.5,107.1 L183.2,106.8 L183.0,106.4 L182.9,106.1 L182.7,105.3 L182.3,103.3 L182.2,102.3 L182.1,101.6 L181.9,99.1 L181.8,96.6 L181.8,93.8 L181.9,92.8 L182.1,90.8 L182.5,88.1 L182.5,87.3 L182.5,86.6 L182.4,85.3 L182.2,83.7 L182.0,81.9 L181.3,78.1 L181.2,76.8 L180.9,74.8 L180.9,73.8 L180.9,72.6 L180.9,71.1 L181.1,69.1 L181.3,67.1 L181.6,65.8 L181.8,65.1 L182.1,64.3 L182.6,63.4 L183.1,62.6 L183.8,61.9 L184.2,61.4 L184.8,61.2 L185.2,61.1 L185.8,61.1 L186.2,61.2 L186.8,61.6 L187.0,61.8 L187.5,62.3 L187.9,62.9 L188.7,64.1 L189.5,65.6 L190.1,66.6 L190.8,67.8 L191.0,68.2 L191.2,68.4 L191.5,68.5 L191.8,68.4 L192.0,68.2 L192.2,68.0 L193.8,65.9 L195.2,63.6 L196.9,60.9 L197.5,60.1 L198.1,59.4 L199.5,57.9 L200.2,57.2 L201.0,56.6 L201.5,56.3 L202.2,55.9 L203.5,55.4 L204.2,55.2 L204.8,55.1 L205.0,55.1 L205.2,55.2 L205.5,55.3 L205.8,55.5 L206.0,55.7 L206.2,56.1 L206.3,56.4 L206.5,56.9 L206.5,57.4 L206.5,57.9 L206.5,58.4 L206.1,60.1 L206.0,61.6 L205.8,62.4 L204.6,66.1 L204.2,67.1 L203.9,67.8 L202.3,70.8 L201.8,71.6 L199.9,74.3 L199.2,75.3 L198.0,76.8 L197.0,77.9 L196.5,78.3 L195.5,79.1 L194.5,79.9 L193.0,81.0 L192.5,81.4 L192.0,82.1 L191.2,83.2 L190.9,83.8 L190.6,84.6 L190.5,85.1 L190.4,85.8 L190.3,86.6 L190.3,87.1 L190.3,87.8 L190.6,89.8 L190.7,91.1 L190.8,95.1 L190.8,96.8 L190.6,100.8 L190.4,101.8 L190.1,103.6 L189.9,104.3 L189.8,104.8 L189.5,105.3 L189.2,105.6 L189.0,105.7 L188.8,105.7 L188.5,105.5 L188.1,104.8 L187.6,103.8 L187.3,103.1 L187.3,102.6 L187.2,100.8 L187.0,99.8 L186.8,99.0 L186.5,98.6 L186.2,98.6 L186.0,99.0 L185.8,99.7 L185.7,100.1 L185.5,101.1 L185.4,103.1 L185.4,103.6 L184.9,105.3 L184.6,106.1 L184.4,106.6 L184.2,106.8 L184.0,107.0 L183.8,107.1"/>
<path d="M183.8,106.2 L183.5,106.1 L183.3,105.8 L183.2,105.6 L183.0,105.1 L182.5,102.6 L182.3,101.1 L182.1,99.1 L182.0,96.6 L182.0,95.6 L182.0,93.8 L182.1,92.8 L182.3,90.8 L182.7,88.3 L182.7,87.6 L182.7,86.8 L182.5,84.0 L182.1,80.1 L182.0,79.7 L181.6,77.6 L181.4,76.3 L181.1,74.6 L181.1,73.3 L181.1,72.1 L181.1,70.6 L181.3,68.8 L181.5,67.1 L181.7,66.3 L181.9,65.6 L182.4,64.3 L182.8,63.6 L183.2,62.9 L183.8,62.3 L184.2,61.9 L184.5,61.7 L184.8,61.6 L185.0,61.5 L185.2,61.5 L185.8,61.5 L186.2,61.7 L186.8,62.0 L187.2,62.6 L187.6,63.1 L188.4,64.3 L189.6,66.6 L189.9,67.3 L190.2,68.4 L190.5,68.9 L190.8,69.2 L191.0,69.4 L191.2,69.5 L191.5,69.5 L191.8,69.3 L192.0,69.2 L192.2,68.9 L193.2,67.3 L194.2,65.9 L195.5,64.0 L196.7,62.1 L197.8,60.4 L198.4,59.6 L199.5,58.5 L200.2,57.8 L201.0,57.3 L201.5,57.0 L202.0,56.7 L202.8,56.6 L203.8,56.4 L204.2,56.4 L204.8,56.5 L205.0,56.6 L205.3,56.9 L205.5,57.2 L205.7,57.9 L205.7,58.4 L205.5,59.9 L205.4,61.6 L205.3,62.4 L204.3,65.6 L203.9,66.8 L203.3,68.1 L201.9,70.6 L201.5,71.3 L199.6,74.1 L199.1,74.8 L197.5,76.6 L197.0,77.2 L196.5,77.6 L196.0,78.0 L194.2,79.2 L193.0,80.0 L192.5,80.3 L192.2,80.6 L191.8,81.1 L191.5,81.6 L190.6,83.3 L190.3,84.1 L190.1,84.8 L190.0,85.6 L190.0,86.3 L190.0,87.1 L190.0,87.8 L190.3,89.6 L190.5,90.8 L190.6,94.8 L190.7,96.3 L190.6,97.1 L190.3,101.3 L190.0,102.8 L189.8,103.3 L189.7,103.8 L189.5,104.2 L189.2,104.5 L189.0,104.7 L188.8,104.6 L188.5,104.4 L188.2,104.0 L188.0,103.6 L187.9,103.1 L187.7,102.3 L187.5,100.2 L187.1,98.3 L186.8,96.1 L186.8,95.1 L186.8,92.8 L186.8,92.3 L186.8,92.1 L186.5,92.0 L186.2,92.1 L186.0,92.3 L185.9,92.8 L185.9,93.8 L185.9,95.8 L185.8,96.6 L185.6,98.3 L185.2,100.3 L185.2,101.1 L185.1,102.6 L184.9,103.6 L184.6,104.8 L184.3,105.6 L184.2,105.8 L184.0,106.1 L183.8,106.2"/>
<path d="M183.8,104.9 L183.5,104.7 L183.2,104.2 L183.0,103.5 L182.8,102.8 L182.6,101.8 L182.4,100.1 L182.2,96.3 L182.2,93.8 L182.3,92.8 L182.4,91.6 L182.9,88.8 L182.9,88.1 L182.9,87.3 L182.8,84.7 L182.3,79.6 L181.6,76.3 L181.4,74.6 L181.3,73.3 L181.3,72.1 L181.3,70.8 L181.4,69.6 L181.7,67.6 L181.9,66.3 L182.1,65.6 L182.4,64.8 L182.8,64.1 L183.2,63.4 L183.8,62.7 L184.2,62.3 L184.8,62.0 L185.0,61.9 L185.2,61.9 L185.8,61.9 L186.2,62.1 L186.8,62.5 L187.3,63.1 L187.9,64.1 L188.6,65.3 L189.1,66.3 L189.4,67.1 L189.6,67.6 L189.8,68.3 L190.0,69.3 L190.2,69.8 L190.5,70.2 L190.8,70.4 L191.0,70.5 L191.2,70.5 L191.5,70.5 L191.8,70.4 L192.0,70.2 L192.2,69.9 L192.5,69.5 L193.2,68.1 L193.5,67.6 L196.0,64.1 L196.8,62.6 L198.0,60.9 L198.5,60.2 L199.0,59.6 L199.8,58.9 L200.2,58.5 L201.0,58.0 L201.8,57.6 L202.2,57.5 L202.8,57.5 L203.2,57.6 L203.8,57.8 L204.2,58.1 L204.5,58.4 L204.6,58.6 L204.7,58.9 L204.8,59.4 L204.9,60.9 L204.9,61.6 L204.7,62.4 L204.4,63.6 L204.1,64.8 L203.9,65.6 L203.4,66.8 L202.8,68.1 L201.6,70.3 L201.0,71.3 L199.2,74.1 L198.5,74.9 L197.0,76.4 L196.2,77.1 L195.8,77.5 L194.8,78.1 L194.0,78.4 L193.0,78.8 L192.8,79.0 L192.2,79.4 L191.5,80.2 L191.2,80.5 L191.1,80.8 L190.2,82.8 L190.0,83.6 L189.8,84.9 L189.6,86.3 L189.6,87.3 L189.7,88.1 L190.1,89.6 L190.2,90.8 L190.3,92.8 L190.4,94.8 L190.5,96.3 L190.4,97.1 L190.0,101.1 L190.0,101.6 L189.8,102.3 L189.5,103.1 L189.2,103.4 L189.0,103.6 L188.8,103.5 L188.5,103.3 L188.4,103.1 L188.2,102.8 L188.1,102.3 L187.8,100.1 L187.4,98.1 L187.2,96.1 L187.2,95.3 L187.2,94.3 L187.3,92.1 L187.3,91.6 L187.2,91.3 L187.1,91.1 L187.0,91.0 L186.8,91.0 L186.5,91.1 L186.0,91.3 L185.8,91.5 L185.6,91.8 L185.5,92.0 L185.5,93.1 L185.5,96.1 L185.5,97.1 L185.4,98.1 L184.9,100.3 L184.7,102.6 L184.6,103.3 L184.2,104.3 L184.0,104.8 L183.8,104.9"/>
<path d="M183.8,103.4 L183.5,103.2 L183.2,102.8 L183.0,102.1 L182.8,100.7 L182.5,98.1 L182.4,95.8 L182.4,93.6 L182.5,92.8 L182.7,91.3 L183.1,89.3 L183.1,88.8 L183.1,88.1 L183.0,85.3 L182.7,81.8 L182.5,79.7 L182.3,78.3 L181.9,76.6 L181.7,75.3 L181.5,74.1 L181.4,73.1 L181.4,72.1 L181.5,71.1 L181.6,69.6 L181.9,67.3 L181.9,66.8 L182.1,66.1 L182.4,65.3 L182.6,64.8 L183.0,64.1 L183.5,63.4 L184.0,62.9 L184.5,62.6 L184.8,62.4 L185.0,62.3 L185.2,62.3 L185.5,62.3 L185.8,62.3 L186.0,62.4 L186.2,62.6 L186.5,62.7 L187.0,63.2 L187.6,64.1 L188.2,65.1 L188.8,66.3 L189.1,67.1 L189.3,67.6 L189.8,69.9 L190.0,70.9 L190.2,71.7 L190.5,72.0 L190.8,72.0 L191.2,71.8 L191.8,71.4 L192.2,71.0 L192.5,70.7 L192.8,70.2 L193.4,68.6 L193.8,67.8 L195.2,65.8 L196.2,64.5 L196.5,64.1 L197.2,62.9 L197.5,62.4 L198.3,61.1 L199.0,60.3 L199.8,59.6 L200.2,59.2 L200.8,58.9 L201.2,58.7 L201.8,58.6 L202.2,58.5 L202.8,58.6 L203.2,58.8 L203.5,58.9 L203.8,59.2 L204.0,59.6 L204.1,59.9 L204.2,60.4 L204.2,60.9 L204.3,61.4 L204.2,61.9 L203.9,63.4 L203.6,64.8 L203.5,65.3 L203.3,65.8 L202.5,67.8 L201.0,70.5 L200.2,71.8 L198.8,74.0 L198.2,74.5 L196.8,76.0 L196.2,76.4 L195.8,76.8 L195.2,77.1 L194.8,77.3 L194.0,77.6 L192.8,77.8 L192.5,77.8 L192.2,78.0 L192.0,78.2 L191.5,78.8 L190.7,79.6 L190.5,79.9 L190.3,80.3 L190.1,81.6 L189.8,83.2 L189.5,84.3 L189.2,87.6 L189.2,88.1 L189.4,88.6 L189.5,88.9 L189.8,89.6 L189.9,90.6 L190.0,91.1 L190.1,92.8 L190.2,94.6 L190.3,95.6 L190.2,96.8 L190.0,98.3 L189.8,100.6 L189.7,101.1 L189.5,101.8 L189.2,102.2 L189.0,102.4 L188.9,102.3 L188.8,102.3 L188.6,102.1 L188.5,101.8 L188.4,101.3 L188.1,99.8 L187.7,98.1 L187.6,97.1 L187.4,95.8 L187.4,95.1 L187.4,94.1 L187.7,91.6 L187.7,91.1 L187.7,90.8 L187.6,90.6 L187.5,90.4 L187.2,90.3 L187.0,90.3 L185.7,90.8 L185.5,91.0 L185.4,91.1 L185.2,91.4 L185.2,91.8 L185.2,92.3 L185.2,96.3 L185.1,97.8 L185.0,98.6 L184.7,100.1 L184.2,102.6 L184.0,103.2 L183.8,103.4"/>
<path d="M183.8,101.5 L183.5,101.5 L183.2,101.0 L183.2,100.8 L183.0,99.8 L182.8,98.6 L182.6,96.6 L182.6,95.3 L182.6,93.8 L182.7,93.1 L182.8,92.6 L183.0,91.2 L183.4,89.8 L183.4,89.3 L183.4,88.8 L182.9,82.8 L182.7,79.6 L182.5,78.4 L182.1,76.6 L181.9,75.3 L181.7,74.1 L181.6,73.1 L181.6,72.1 L181.7,71.1 L181.8,69.3 L182.1,67.3 L182.1,66.8 L182.3,66.1 L182.7,65.1 L183.0,64.6 L183.2,64.2 L183.8,63.6 L184.2,63.1 L184.5,63.0 L185.0,62.7 L185.2,62.7 L185.5,62.7 L185.8,62.7 L186.0,62.8 L186.2,63.0 L186.5,63.2 L187.0,63.7 L187.8,64.8 L188.3,65.8 L188.8,66.8 L189.0,67.6 L189.4,69.8 L189.6,70.8 L189.6,72.1 L189.5,74.1 L189.6,74.6 L189.7,75.3 L190.0,75.6 L190.2,75.7 L190.5,75.7 L191.0,75.7 L191.2,75.6 L191.4,75.3 L191.4,75.1 L191.4,74.3 L191.4,73.8 L191.5,73.6 L191.6,73.1 L191.9,72.6 L192.8,71.3 L193.1,70.8 L193.3,70.3 L193.7,69.1 L194.1,68.3 L194.5,67.6 L195.5,66.2 L196.8,64.7 L196.9,64.3 L197.7,62.9 L198.5,61.7 L199.0,61.0 L199.5,60.5 L200.0,60.1 L200.5,59.9 L201.0,59.7 L201.8,59.6 L202.2,59.5 L202.8,59.6 L203.0,59.8 L203.3,60.1 L203.5,60.6 L203.6,61.1 L203.6,61.4 L203.5,61.9 L203.2,63.1 L203.1,64.6 L203.0,65.3 L202.2,67.3 L201.9,68.1 L198.8,73.2 L198.3,73.8 L197.8,74.4 L196.0,75.8 L195.5,76.2 L195.0,76.5 L194.5,76.7 L194.2,76.7 L193.8,76.8 L193.2,76.7 L192.5,76.5 L192.2,76.4 L192.0,76.4 L191.8,76.6 L191.5,76.9 L191.3,77.3 L191.0,77.8 L190.7,78.1 L190.2,78.5 L190.0,78.9 L189.9,79.1 L189.8,79.6 L189.6,82.1 L189.2,84.6 L189.0,86.1 L188.8,87.1 L188.2,88.8 L188.1,89.1 L188.0,89.2 L187.5,89.4 L186.5,90.1 L186.2,90.2 L185.5,90.4 L185.2,90.6 L185.0,90.8 L184.9,91.1 L184.9,91.3 L184.8,91.8 L185.0,96.1 L184.9,97.3 L184.8,98.4 L184.2,100.2 L184.0,101.0 L183.8,101.5 M189.0,100.7 L188.8,100.3 L188.2,98.9 L188.0,98.1 L187.8,96.6 L187.7,95.3 L187.7,94.3 L187.8,93.7 L188.1,91.6 L188.2,89.9 L188.3,89.6 L188.5,89.4 L188.8,89.4 L189.0,89.5 L189.2,89.7 L189.5,90.2 L189.6,90.6 L189.7,91.3 L189.8,92.8 L190.0,94.8 L190.0,95.6 L190.0,96.3 L190.0,96.8 L189.5,99.5 L189.2,100.5 L189.0,100.7"/>
<path d="M194.8,75.7 L194.5,75.7 L194.2,75.8 L194.0,75.7 L193.8,75.6 L193.5,75.5 L193.1,75.1 L192.8,74.6 L192.6,74.1 L192.5,73.8 L192.6,73.3 L192.8,72.8 L193.5,71.8 L193.8,71.1 L194.3,69.3 L194.6,68.6 L195.0,68.0 L195.9,66.6 L197.0,65.4 L197.2,65.0 L197.5,64.6 L198.0,63.6 L198.4,62.9 L198.8,62.4 L199.2,61.7 L199.8,61.3 L200.0,61.1 L200.5,60.9 L201.0,60.8 L201.5,60.8 L202.0,60.8 L202.2,60.9 L202.4,61.1 L202.5,61.2 L202.5,61.4 L202.6,61.6 L202.5,61.9 L202.3,63.1 L202.3,64.8 L202.2,65.3 L201.8,66.8 L201.5,67.7 L201.1,68.3 L200.3,69.3 L200.0,69.8 L199.4,70.8 L198.5,72.6 L198.0,73.3 L197.5,73.8 L197.0,74.2 L195.2,75.4 L194.8,75.7 M184.8,90.1 L184.2,90.3 L184.1,90.1 L184.0,89.8 L183.8,89.1 L183.6,87.8 L183.4,86.1 L182.8,79.3 L182.7,78.6 L182.1,75.6 L181.9,74.3 L181.8,73.3 L181.8,72.3 L181.8,71.3 L181.9,70.1 L182.3,67.3 L182.5,66.3 L182.7,65.6 L183.0,65.1 L183.2,64.7 L183.5,64.3 L184.0,63.8 L184.5,63.4 L184.8,63.3 L185.0,63.2 L185.2,63.2 L185.5,63.2 L185.8,63.2 L186.0,63.3 L186.2,63.5 L186.8,64.0 L187.2,64.6 L187.8,65.4 L188.4,66.6 L188.6,67.1 L188.8,67.8 L189.1,69.8 L189.2,70.8 L189.2,71.8 L189.1,73.6 L189.1,74.3 L189.2,76.8 L189.4,78.3 L189.4,80.1 L189.4,81.1 L189.3,82.6 L188.8,85.6 L188.6,86.6 L188.2,87.3 L187.6,88.3 L187.2,88.8 L186.8,89.4 L186.4,89.6 L186.0,89.8 L185.2,90.0 L184.8,90.1 M183.8,98.9 L183.5,98.8 L183.2,98.3 L183.0,97.1 L182.9,95.8 L182.9,93.8 L183.0,93.1 L183.2,92.0 L183.5,91.3 L183.8,90.9 L183.9,90.8 L184.0,90.7 L184.2,91.1 L184.5,92.4 L184.6,93.1 L184.7,96.3 L184.6,97.3 L184.5,97.7 L184.4,98.1 L184.2,98.4 L184.0,98.8 L183.8,98.9 M189.0,97.8 L188.8,97.8 L188.5,97.5 L188.2,96.8 L188.1,96.1 L188.1,95.3 L188.1,94.3 L188.2,93.4 L188.5,92.8 L188.8,92.6 L189.0,92.9 L189.2,93.6 L189.5,94.5 L189.6,95.3 L189.6,96.1 L189.5,96.8 L189.2,97.4 L189.0,97.8"/>
<path d="M195.0,74.1 L194.5,74.2 L194.2,74.2 L194.0,74.1 L193.8,73.8 L193.7,73.6 L193.8,73.3 L193.9,73.1 L194.3,72.3 L194.6,71.8 L194.8,71.1 L195.1,70.1 L195.3,69.6 L195.5,69.2 L196.2,68.3 L196.3,68.1 L196.8,67.1 L197.1,66.6 L199.5,63.0 L199.8,62.8 L200.0,62.6 L200.2,62.5 L200.5,62.5 L200.8,62.6 L200.9,62.9 L201.0,63.1 L201.2,65.1 L201.2,65.6 L201.2,66.3 L201.1,66.8 L200.9,67.3 L200.7,67.6 L200.5,67.8 L200.2,68.1 L199.2,68.8 L198.9,69.1 L198.8,69.4 L198.5,70.1 L197.7,72.1 L197.5,72.6 L197.1,73.1 L196.8,73.4 L196.2,73.7 L195.8,73.9 L195.0,74.1 M185.5,89.4 L185.0,89.4 L184.8,89.3 L184.5,89.2 L184.4,89.1 L184.2,88.9 L184.0,88.4 L183.8,87.4 L183.6,86.6 L183.5,85.6 L183.1,79.6 L182.8,77.4 L182.1,74.3 L182.0,73.6 L182.0,72.8 L182.1,71.6 L182.4,68.1 L182.6,67.1 L182.8,66.3 L183.0,65.7 L183.2,65.2 L183.5,64.8 L183.8,64.6 L184.0,64.3 L184.5,64.0 L185.0,63.8 L185.2,63.7 L185.5,63.8 L185.8,63.8 L186.0,63.9 L186.2,64.1 L186.5,64.4 L187.0,64.9 L187.5,65.7 L188.0,66.5 L188.3,67.1 L188.5,67.8 L188.9,69.8 L188.9,70.6 L188.9,71.3 L188.7,73.3 L188.7,74.1 L188.8,76.8 L189.1,79.3 L189.2,80.6 L189.1,81.8 L189.0,83.1 L188.5,85.5 L188.2,86.3 L188.0,86.8 L187.5,87.6 L187.0,88.3 L186.8,88.7 L186.5,88.9 L186.2,89.1 L186.0,89.3 L185.5,89.4"/>
<path d="M186.0,88.9 L185.8,89.0 L185.2,89.0 L185.0,89.0 L184.7,88.8 L184.5,88.7 L184.2,88.4 L184.0,87.8 L183.9,87.3 L183.8,86.6 L183.6,85.6 L183.2,79.8 L182.8,76.6 L182.3,74.3 L182.2,73.1 L182.2,71.8 L182.5,68.3 L182.7,67.1 L182.9,66.3 L183.1,65.8 L183.4,65.3 L183.8,64.9 L184.0,64.7 L184.5,64.3 L185.0,64.2 L185.2,64.1 L185.5,64.2 L185.8,64.2 L186.0,64.4 L186.5,64.8 L187.0,65.3 L187.2,65.7 L187.8,66.6 L188.1,67.1 L188.3,67.8 L188.7,69.8 L188.8,70.6 L188.7,71.3 L188.5,73.1 L188.5,73.8 L188.6,75.3 L188.7,77.1 L188.9,79.1 L189.0,80.3 L189.0,81.3 L188.9,82.8 L188.7,83.6 L188.3,85.3 L188.0,86.2 L187.8,86.7 L186.8,88.2 L186.4,88.6 L186.2,88.7 L186.0,88.9 M199.5,67.6 L199.2,67.7 L199.0,67.6 L198.8,67.6 L198.5,67.5 L198.2,67.3 L198.1,67.1 L198.1,66.8 L198.1,66.6 L198.2,66.3 L198.5,65.8 L198.8,65.5 L199.0,65.2 L199.2,65.1 L199.5,65.0 L199.8,65.0 L200.0,65.2 L200.2,65.3 L200.2,65.5 L200.4,65.8 L200.5,66.3 L200.5,66.6 L200.4,66.8 L200.2,67.2 L200.0,67.4 L199.8,67.6 L199.5,67.6 M196.2,72.4 L196.0,72.6 L195.8,72.5 L195.7,72.3 L195.8,72.0 L196.0,71.6 L196.2,71.5 L196.3,71.6 L196.4,71.8 L196.4,72.1 L196.2,72.4" fill="#5a5a5a" fill-rule="evenodd"/>
</g>
<path d="M186.6,68 C187.2,74 187.2,82 186.8,89" stroke="#aaa" stroke-width="0.9" fill="none" stroke-dasharray="2.2 0.8"/>
<path d="M183.6,64.5 C182.6,70 183.4,82 184.4,90 L183.8,103" stroke="#151515" stroke-width="1.9" fill="none" stroke-linecap="round"/>
<path d="M188.6,66 C189.6,72 189.6,82 189.2,90 L189,102" stroke="#222" stroke-width="1.2" fill="none" stroke-linecap="round"/>
<path d="M183.4,65 C185,62.6 187.4,63 188.8,66" stroke="#222" stroke-width="1.1" fill="none"/>
<rect x="206.2" y="72.4" width="0.9" height="0.9" fill="#222"/>
<rect x="201.0" y="80.5" width="0.9" height="0.9" fill="#222"/>
<rect x="199.2" y="87.2" width="0.9" height="0.9" fill="#222"/>
<rect x="204.0" y="64.6" width="0.9" height="0.9" fill="#222"/>
<rect x="211.3" y="60.6" width="0.9" height="0.9" fill="#222"/>
<rect x="198.8" y="86.4" width="0.9" height="0.9" fill="#222"/>
<rect x="195.0" y="80.3" width="0.9" height="0.9" fill="#222"/>
<rect x="204.1" y="66.3" width="0.9" height="0.9" fill="#222"/>
<rect x="209.5" y="69.3" width="0.9" height="0.9" fill="#222"/>
<rect x="209.0" y="58.8" width="0.9" height="0.9" fill="#222"/>
<rect x="203.9" y="81.4" width="0.9" height="0.9" fill="#222"/>
<rect x="202.0" y="73.4" width="0.9" height="0.9" fill="#222"/>
<rect x="196.7" y="83.3" width="0.9" height="0.9" fill="#222"/>
<rect x="206.2" y="70.6" width="0.9" height="0.9" fill="#222"/>
<rect x="200.9" y="83.4" width="0.9" height="0.9" fill="#222"/>
<rect x="200.4" y="79.2" width="0.9" height="0.9" fill="#222"/>
<rect x="203.1" y="74.3" width="0.9" height="0.9" fill="#222"/>
<rect x="203.2" y="87.8" width="0.9" height="0.9" fill="#222"/>
<rect x="199.5" y="70.3" width="0.9" height="0.9" fill="#222"/>
<rect x="204.4" y="73.9" width="0.9" height="0.9" fill="#222"/>
<rect x="198.4" y="87.2" width="0.9" height="0.9" fill="#222"/>
<rect x="197.4" y="82.6" width="0.9" height="0.9" fill="#222"/>
<rect x="204.6" y="83.3" width="0.9" height="0.9" fill="#222"/>
<rect x="197.6" y="81.4" width="0.9" height="0.9" fill="#222"/>
<rect x="203.8" y="67.1" width="0.9" height="0.9" fill="#222"/>
<rect x="199.9" y="75.2" width="0.9" height="0.9" fill="#222"/>
<rect x="194.5" y="91.1" width="0.9" height="0.9" fill="#222"/>
<rect x="196.0" y="89.1" width="0.9" height="0.9" fill="#222"/>
<rect x="201.7" y="73.0" width="0.9" height="0.9" fill="#222"/>
<rect x="197.3" y="80.8" width="0.9" height="0.9" fill="#222"/>
<rect x="186.7" y="108.9" width="0.9" height="0.9" fill="#222"/>
<rect x="185.0" y="109.7" width="0.9" height="0.9" fill="#222"/>
<rect x="185.9" y="118.6" width="0.9" height="0.9" fill="#222"/>
<rect x="183.7" y="110.7" width="0.9" height="0.9" fill="#222"/>
<rect x="186.8" y="101.1" width="0.9" height="0.9" fill="#222"/>
<rect x="183.7" y="113.2" width="0.9" height="0.9" fill="#222"/>
<rect x="183.9" y="110.8" width="0.9" height="0.9" fill="#222"/>
<rect x="185.6" y="106.4" width="0.9" height="0.9" fill="#222"/>
<rect x="184.0" y="109.9" width="0.9" height="0.9" fill="#222"/>
<rect x="189.7" y="108.5" width="0.9" height="0.9" fill="#222"/>
<rect x="190.2" y="103.5" width="0.9" height="0.9" fill="#222"/>
<rect x="186.3" y="116.8" width="0.9" height="0.9" fill="#222"/>
<rect x="190.4" y="108.0" width="0.9" height="0.9" fill="#222"/>
<rect x="187.2" y="112.7" width="0.9" height="0.9" fill="#222"/>
<rect x="185.7" y="111.6" width="0.9" height="0.9" fill="#222"/>
<rect x="186.6" y="112.8" width="0.9" height="0.9" fill="#222"/>
<rect x="184.6" y="104.1" width="0.9" height="0.9" fill="#222"/>
<rect x="187.5" y="109.4" width="0.9" height="0.9" fill="#222"/>
<rect x="185.8" y="104.5" width="0.9" height="0.9" fill="#222"/>
<rect x="189.3" y="118.3" width="0.9" height="0.9" fill="#222"/>
<rect x="188.0" y="110.4" width="0.9" height="0.9" fill="#222"/>
<rect x="188.6" y="109.7" width="0.9" height="0.9" fill="#222"/>
<rect x="179.9" y="112.1" width="0.9" height="0.9" fill="#222"/>
<rect x="187.1" y="108.7" width="0.9" height="0.9" fill="#222"/>
<rect x="184.1" y="113.3" width="0.9" height="0.9" fill="#222"/>
<rect x="185.7" y="113.5" width="0.9" height="0.9" fill="#222"/>
<rect x="185.0" y="117.5" width="0.9" height="0.9" fill="#222"/>
<rect x="189.3" y="111.7" width="0.9" height="0.9" fill="#222"/>
<rect x="186.1" y="111.3" width="0.9" height="0.9" fill="#222"/>
<rect x="185.0" y="116.5" width="0.9" height="0.9" fill="#222"/>
<rect x="193.1" y="99.8" width="0.9" height="0.9" fill="#222"/>
<rect x="198.4" y="98.8" width="0.9" height="0.9" fill="#222"/>
<rect x="195.2" y="99.4" width="0.9" height="0.9" fill="#222"/>
<rect x="193.9" y="102.0" width="0.9" height="0.9" fill="#222"/>
<rect x="194.4" y="94.5" width="0.9" height="0.9" fill="#222"/>
<rect x="195.8" y="105.3" width="0.9" height="0.9" fill="#222"/>
<rect x="197.9" y="93.2" width="0.9" height="0.9" fill="#222"/>
<rect x="193.9" y="104.0" width="0.9" height="0.9" fill="#222"/>
<rect x="196.8" y="95.6" width="0.9" height="0.9" fill="#222"/>
<rect x="193.7" y="97.1" width="0.9" height="0.9" fill="#222"/>
<text x="71.5" y="27.8" font-size="13" text-anchor="start" fill="#000" textLength="67.8" lengthAdjust="spacingAndGlyphs" >Control vector</text>
<text x="189.2" y="27.8" font-size="13" text-anchor="start" fill="#000" textLength="66" lengthAdjust="spacingAndGlyphs" >Smad4 vector</text>
<text x="33.3" y="95.6" font-size="14" text-anchor="start" fill="#000" transform="rotate(-90 33.3 95.6)" >Ki67</text>
<line x1="36.85" y1="147.3" x2="36.85" y2="41" stroke="#000" stroke-width="2.1" />
<polygon points="36.85,36 33.7,41.9 40,41.9" fill="#000"/>
<line x1="47.7" y1="152.85" x2="274" y2="152.85" stroke="#000" stroke-width="2.1" />
<polygon points="278.4,152.85 272.9,150 272.9,155.7" fill="#000"/>
<text x="147.6" y="169" font-size="13.3" text-anchor="start" fill="#000" textLength="32.4" lengthAdjust="spacingAndGlyphs" >7AAD</text>
<line x1="50.6" y1="221.0" x2="50.6" y2="356.6" stroke="#000" stroke-width="2.2" />
<line x1="49.5" y1="355.5" x2="250.5" y2="355.5" stroke="#000" stroke-width="2.2" />
<line x1="45.1" y1="355.5" x2="50.6" y2="355.5" stroke="#000" stroke-width="1.8" />
<text x="44.4" y="360.0" font-size="9.9" text-anchor="end" fill="#000" >0</text>
<line x1="45.1" y1="328.78" x2="50.6" y2="328.78" stroke="#000" stroke-width="1.8" />
<text x="44.4" y="333.28" font-size="9.9" text-anchor="end" fill="#000" >20</text>
<line x1="45.1" y1="302.06" x2="50.6" y2="302.06" stroke="#000" stroke-width="1.8" />
<text x="44.4" y="306.56" font-size="9.9" text-anchor="end" fill="#000" >40</text>
<line x1="45.1" y1="275.34000000000003" x2="50.6" y2="275.34000000000003" stroke="#000" stroke-width="1.8" />
<text x="44.4" y="279.84000000000003" font-size="9.9" text-anchor="end" fill="#000" >60</text>
<line x1="45.1" y1="248.62" x2="50.6" y2="248.62" stroke="#000" stroke-width="1.8" />
<text x="44.4" y="253.12" font-size="9.9" text-anchor="end" fill="#000" >80</text>
<line x1="45.1" y1="221.9" x2="50.6" y2="221.9" stroke="#000" stroke-width="1.8" />
<text x="44.4" y="226.4" font-size="9.9" text-anchor="end" fill="#000" >100</text>
<line x1="82.4" y1="344.2" x2="82.4" y2="343.9" stroke="#000" stroke-width="1.5" />
<line x1="75.4" y1="343.9" x2="89.4" y2="343.9" stroke="#000" stroke-width="1.5" />
<rect x="69.55" y="345.15" width="25.70000000000001" height="10.350000000000012" fill="#fff" stroke="#000" stroke-width="1.9"/>
<line x1="119.80000000000001" y1="332.6" x2="119.80000000000001" y2="326" stroke="#000" stroke-width="1.5" />
<line x1="112.80000000000001" y1="326" x2="126.80000000000001" y2="326" stroke="#000" stroke-width="1.5" />
<rect x="106.3" y="332.6" width="27.000000000000014" height="22.899999999999977" fill="#000"/>
<line x1="182.35" y1="231.6" x2="182.35" y2="231.2" stroke="#000" stroke-width="1.5" />
<line x1="175.35" y1="231.2" x2="189.35" y2="231.2" stroke="#000" stroke-width="1.5" />
<rect x="169.64999999999998" y="232.54999999999998" width="25.400000000000013" height="122.95" fill="#fff" stroke="#000" stroke-width="1.9"/>
<line x1="219.35" y1="244.4" x2="219.35" y2="237.2" stroke="#000" stroke-width="1.5" />
<line x1="212.35" y1="237.2" x2="226.35" y2="237.2" stroke="#000" stroke-width="1.5" />
<rect x="205.7" y="244.4" width="27.30000000000001" height="111.1" fill="#000"/>
<line x1="100.7" y1="355.5" x2="100.7" y2="360.1" stroke="#000" stroke-width="1.9" />
<text x="100.7" y="370.5" font-size="10.4" text-anchor="middle" fill="#000" >G0</text>
<line x1="201.3" y1="355.5" x2="201.3" y2="360.1" stroke="#000" stroke-width="1.9" />
<text x="201.3" y="370.5" font-size="10.4" text-anchor="middle" fill="#000" textLength="51" lengthAdjust="spacingAndGlyphs" >G1/S/G2/M</text>
<rect x="59.0" y="222.6" width="16.0" height="8.7" fill="#fff" stroke="#000" stroke-width="1.8"/>
<rect x="58.1" y="236.9" width="17.8" height="11" fill="#000"/>
<text x="82.5" y="230.5" font-size="11.5" text-anchor="start" fill="#000" textLength="67.6" lengthAdjust="spacingAndGlyphs" >Control vector</text>
<text x="82.5" y="246.4" font-size="11.5" text-anchor="start" fill="#000" textLength="66.2" lengthAdjust="spacingAndGlyphs" >Smad4 vector</text>
<text x="22.5" y="342.6" font-size="12.4" text-anchor="start" fill="#000" textLength="111" lengthAdjust="spacingAndGlyphs" transform="rotate(-90 22.5 342.6)" >Proportion cells (%)</text>
<text x="119.4" y="318.8" font-size="18.5" text-anchor="middle" fill="#000" stroke="#000" stroke-width="0.35">*</text>
<text x="220.3" y="228.7" font-size="18.5" text-anchor="middle" fill="#000" stroke="#000" stroke-width="0.35">*</text>
<line x1="320.4" y1="221.7" x2="320.4" y2="357.20000000000005" stroke="#000" stroke-width="2.2" />
<line x1="319.29999999999995" y1="356.1" x2="521" y2="356.1" stroke="#000" stroke-width="2.2" />
<line x1="314.9" y1="356.1" x2="320.4" y2="356.1" stroke="#000" stroke-width="1.8" />
<text x="314.2" y="360.6" font-size="9.9" text-anchor="end" fill="#000" >0</text>
<line x1="314.9" y1="329.40000000000003" x2="320.4" y2="329.40000000000003" stroke="#000" stroke-width="1.8" />
<text x="314.2" y="333.90000000000003" font-size="9.9" text-anchor="end" fill="#000" >20</text>
<line x1="314.9" y1="302.70000000000005" x2="320.4" y2="302.70000000000005" stroke="#000" stroke-width="1.8" />
<text x="314.2" y="307.20000000000005" font-size="9.9" text-anchor="end" fill="#000" >40</text>
<line x1="314.9" y1="276.0" x2="320.4" y2="276.0" stroke="#000" stroke-width="1.8" />
<text x="314.2" y="280.5" font-size="9.9" text-anchor="end" fill="#000" >60</text>
<line x1="314.9" y1="249.3" x2="320.4" y2="249.3" stroke="#000" stroke-width="1.8" />
<text x="314.2" y="253.8" font-size="9.9" text-anchor="end" fill="#000" >80</text>
<line x1="314.9" y1="222.6" x2="320.4" y2="222.6" stroke="#000" stroke-width="1.8" />
<text x="314.2" y="227.1" font-size="9.9" text-anchor="end" fill="#000" >100</text>
<line x1="351.70000000000005" y1="339.2" x2="351.70000000000005" y2="332.5" stroke="#000" stroke-width="1.5" />
<line x1="344.70000000000005" y1="332.5" x2="358.70000000000005" y2="332.5" stroke="#000" stroke-width="1.5" />
<rect x="339.05" y="340.15" width="25.29999999999999" height="15.950000000000035" fill="#fff" stroke="#000" stroke-width="1.9"/>
<line x1="389.1" y1="342" x2="389.1" y2="341.3" stroke="#000" stroke-width="1.5" />
<line x1="382.1" y1="341.3" x2="396.1" y2="341.3" stroke="#000" stroke-width="1.5" />
<rect x="375.5" y="342" width="27.19999999999999" height="14.100000000000023" fill="#000"/>
<line x1="451.6" y1="240" x2="451.6" y2="232.4" stroke="#000" stroke-width="1.5" />
<line x1="444.6" y1="232.4" x2="458.6" y2="232.4" stroke="#000" stroke-width="1.5" />
<rect x="439.34999999999997" y="240.95" width="24.500000000000036" height="115.15000000000002" fill="#fff" stroke="#000" stroke-width="1.9"/>
<line x1="488.75" y1="236.4" x2="488.75" y2="235.4" stroke="#000" stroke-width="1.5" />
<line x1="481.75" y1="235.4" x2="495.75" y2="235.4" stroke="#000" stroke-width="1.5" />
<rect x="475.3" y="236.4" width="26.899999999999977" height="119.70000000000002" fill="#000"/>
<line x1="370.3" y1="356.1" x2="370.3" y2="360.70000000000005" stroke="#000" stroke-width="1.9" />
<text x="370.3" y="371.1" font-size="10.4" text-anchor="middle" fill="#000" >G0</text>
<line x1="470.3" y1="356.1" x2="470.3" y2="360.70000000000005" stroke="#000" stroke-width="1.9" />
<text x="470.3" y="371.1" font-size="10.4" text-anchor="middle" fill="#000" textLength="52.6" lengthAdjust="spacingAndGlyphs" >G1/S/G2/M</text>
<rect x="331.49999999999994" y="223.4" width="16.0" height="8.7" fill="#fff" stroke="#000" stroke-width="1.8"/>
<rect x="330.59999999999997" y="237.70000000000002" width="17.8" height="11" fill="#000"/>
<text x="354.5" y="231.3" font-size="11.5" text-anchor="start" fill="#000" textLength="67.6" lengthAdjust="spacingAndGlyphs" >Control vector</text>
<text x="354.5" y="247.20000000000002" font-size="11.5" text-anchor="start" fill="#000" textLength="66.2" lengthAdjust="spacingAndGlyphs" >Smad4 vector</text>
<text x="292" y="343.3" font-size="12.4" text-anchor="start" fill="#000" textLength="111.5" lengthAdjust="spacingAndGlyphs" transform="rotate(-90 292 343.3)" >Proportion cells (%)</text>
<text x="394.5" y="196.8" font-size="11" text-anchor="start" fill="#000" textLength="38" lengthAdjust="spacingAndGlyphs" >Inhibitor</text>
<rect x="63.5" y="431.4" width="96.19999999999999" height="95.20000000000005" fill="none" stroke="#222" stroke-width="0.9"/>
<line x1="112.4" y1="431.4" x2="112.4" y2="526.6" stroke="#222" stroke-width="0.9" />
<line x1="63.5" y1="468.8" x2="159.7" y2="468.8" stroke="#222" stroke-width="0.9" />
<text x="59.2" y="442.1" font-size="4.6" text-anchor="end" fill="#222" >10<tspan dy="-1.6" font-size="3">5</tspan></text>
<line x1="60.3" y1="440.5" x2="63.5" y2="440.5" stroke="#111" stroke-width="0.9" />
<text x="59.2" y="462.6" font-size="4.6" text-anchor="end" fill="#222" >10<tspan dy="-1.6" font-size="3">4</tspan></text>
<line x1="60.3" y1="461" x2="63.5" y2="461" stroke="#111" stroke-width="0.9" />
<text x="59.2" y="484.90000000000003" font-size="4.6" text-anchor="end" fill="#222" >10<tspan dy="-1.6" font-size="3">3</tspan></text>
<line x1="60.3" y1="483.3" x2="63.5" y2="483.3" stroke="#111" stroke-width="0.9" />
<text x="59.2" y="507.8" font-size="4.6" text-anchor="end" fill="#222" >10<tspan dy="-1.6" font-size="3">2</tspan></text>
<line x1="60.3" y1="506.2" x2="63.5" y2="506.2" stroke="#111" stroke-width="0.9" />
<text x="59.2" y="519.0" font-size="4.6" text-anchor="end" fill="#222" >0</text>
<line x1="60.3" y1="517.4" x2="63.5" y2="517.4" stroke="#111" stroke-width="0.9" />
<line x1="61.7" y1="434" x2="63.5" y2="434" stroke="#111" stroke-width="0.8" />
<line x1="61.7" y1="436" x2="63.5" y2="436" stroke="#111" stroke-width="0.8" />
<line x1="61.7" y1="447" x2="63.5" y2="447" stroke="#111" stroke-width="0.8" />
<line x1="61.7" y1="451" x2="63.5" y2="451" stroke="#111" stroke-width="0.8" />
<line x1="61.7" y1="454" x2="63.5" y2="454" stroke="#111" stroke-width="0.8" />
<line x1="61.7" y1="456" x2="63.5" y2="456" stroke="#111" stroke-width="0.8" />
<line x1="61.7" y1="458" x2="63.5" y2="458" stroke="#111" stroke-width="0.8" />
<line x1="61.7" y1="468" x2="63.5" y2="468" stroke="#111" stroke-width="0.8" />
<line x1="61.7" y1="472" x2="63.5" y2="472" stroke="#111" stroke-width="0.8" />
<line x1="61.7" y1="475" x2="63.5" y2="475" stroke="#111" stroke-width="0.8" />
<line x1="61.7" y1="477" x2="63.5" y2="477" stroke="#111" stroke-width="0.8" />
<line x1="61.7" y1="479" x2="63.5" y2="479" stroke="#111" stroke-width="0.8" />
<line x1="61.7" y1="490" x2="63.5" y2="490" stroke="#111" stroke-width="0.8" />
<line x1="61.7" y1="494" x2="63.5" y2="494" stroke="#111" stroke-width="0.8" />
<line x1="61.7" y1="497" x2="63.5" y2="497" stroke="#111" stroke-width="0.8" />
<line x1="61.7" y1="500" x2="63.5" y2="500" stroke="#111" stroke-width="0.8" />
<line x1="61.7" y1="502" x2="63.5" y2="502" stroke="#111" stroke-width="0.8" />
<line x1="61.7" y1="511" x2="63.5" y2="511" stroke="#111" stroke-width="0.8" />
<line x1="61.7" y1="514" x2="63.5" y2="514" stroke="#111" stroke-width="0.8" />
<line x1="61.7" y1="521" x2="63.5" y2="521" stroke="#111" stroke-width="0.8" />
<line x1="61.7" y1="524" x2="63.5" y2="524" stroke="#111" stroke-width="0.8" />
<line x1="73.7" y1="526.6" x2="73.7" y2="529.6" stroke="#111" stroke-width="0.9" />
<text x="73.7" y="535.2" font-size="4.6" text-anchor="middle" fill="#222" >0</text>
<line x1="82.2" y1="526.6" x2="82.2" y2="529.6" stroke="#111" stroke-width="0.9" />
<text x="82.2" y="535.2" font-size="4.6" text-anchor="middle" fill="#222" >10<tspan dy="-1.6" font-size="3">2</tspan></text>
<line x1="106.7" y1="526.6" x2="106.7" y2="529.6" stroke="#111" stroke-width="0.9" />
<text x="106.7" y="535.2" font-size="4.6" text-anchor="middle" fill="#222" >10<tspan dy="-1.6" font-size="3">3</tspan></text>
<line x1="129" y1="526.6" x2="129" y2="529.6" stroke="#111" stroke-width="0.9" />
<text x="129" y="535.2" font-size="4.6" text-anchor="middle" fill="#222" >10<tspan dy="-1.6" font-size="3">4</tspan></text>
<line x1="153" y1="526.6" x2="153" y2="529.6" stroke="#111" stroke-width="0.9" />
<text x="153" y="535.2" font-size="4.6" text-anchor="middle" fill="#222" >10<tspan dy="-1.6" font-size="3">5</tspan></text>
<line x1="63.5" y1="526.6" x2="63.5" y2="528.4" stroke="#111" stroke-width="0.8" />
<line x1="66.6" y1="526.6" x2="66.6" y2="528.4" stroke="#111" stroke-width="0.8" />
<line x1="69.69999999999999" y1="526.6" x2="69.69999999999999" y2="528.4" stroke="#111" stroke-width="0.8" />
<line x1="72.79999999999998" y1="526.6" x2="72.79999999999998" y2="528.4" stroke="#111" stroke-width="0.8" />
<line x1="75.89999999999998" y1="526.6" x2="75.89999999999998" y2="528.4" stroke="#111" stroke-width="0.8" />
<line x1="78.99999999999997" y1="526.6" x2="78.99999999999997" y2="528.4" stroke="#111" stroke-width="0.8" />
<line x1="82.09999999999997" y1="526.6" x2="82.09999999999997" y2="528.4" stroke="#111" stroke-width="0.8" />
<line x1="85.19999999999996" y1="526.6" x2="85.19999999999996" y2="528.4" stroke="#111" stroke-width="0.8" />
<line x1="88.29999999999995" y1="526.6" x2="88.29999999999995" y2="528.4" stroke="#111" stroke-width="0.8" />
<line x1="91.39999999999995" y1="526.6" x2="91.39999999999995" y2="528.4" stroke="#111" stroke-width="0.8" />
<line x1="94.49999999999994" y1="526.6" x2="94.49999999999994" y2="528.4" stroke="#111" stroke-width="0.8" />
<line x1="97.59999999999994" y1="526.6" x2="97.59999999999994" y2="528.4" stroke="#111" stroke-width="0.8" />
<line x1="100.69999999999993" y1="526.6" x2="100.69999999999993" y2="528.4" stroke="#111" stroke-width="0.8" />
<line x1="103.79999999999993" y1="526.6" x2="103.79999999999993" y2="528.4" stroke="#111" stroke-width="0.8" />
<line x1="106.89999999999992" y1="526.6" x2="106.89999999999992" y2="528.4" stroke="#111" stroke-width="0.8" />
<line x1="109.99999999999991" y1="526.6" x2="109.99999999999991" y2="528.4" stroke="#111" stroke-width="0.8" />
<line x1="113.09999999999991" y1="526.6" x2="113.09999999999991" y2="528.4" stroke="#111" stroke-width="0.8" />
<line x1="116.1999999999999" y1="526.6" x2="116.1999999999999" y2="528.4" stroke="#111" stroke-width="0.8" />
<line x1="119.2999999999999" y1="526.6" x2="119.2999999999999" y2="528.4" stroke="#111" stroke-width="0.8" />
<line x1="122.39999999999989" y1="526.6" x2="122.39999999999989" y2="528.4" stroke="#111" stroke-width="0.8" />
<line x1="125.49999999999989" y1="526.6" x2="125.49999999999989" y2="528.4" stroke="#111" stroke-width="0.8" />
<line x1="128.59999999999988" y1="526.6" x2="128.59999999999988" y2="528.4" stroke="#111" stroke-width="0.8" />
<line x1="131.69999999999987" y1="526.6" x2="131.69999999999987" y2="528.4" stroke="#111" stroke-width="0.8" />
<line x1="134.79999999999987" y1="526.6" x2="134.79999999999987" y2="528.4" stroke="#111" stroke-width="0.8" />
<line x1="137.89999999999986" y1="526.6" x2="137.89999999999986" y2="528.4" stroke="#111" stroke-width="0.8" />
<line x1="140.99999999999986" y1="526.6" x2="140.99999999999986" y2="528.4" stroke="#111" stroke-width="0.8" />
<line x1="144.09999999999985" y1="526.6" x2="144.09999999999985" y2="528.4" stroke="#111" stroke-width="0.8" />
<line x1="147.19999999999985" y1="526.6" x2="147.19999999999985" y2="528.4" stroke="#111" stroke-width="0.8" />
<line x1="150.29999999999984" y1="526.6" x2="150.29999999999984" y2="528.4" stroke="#111" stroke-width="0.8" />
<line x1="153.39999999999984" y1="526.6" x2="153.39999999999984" y2="528.4" stroke="#111" stroke-width="0.8" />
<line x1="156.49999999999983" y1="526.6" x2="156.49999999999983" y2="528.4" stroke="#111" stroke-width="0.8" />
<line x1="159.59999999999982" y1="526.6" x2="159.59999999999982" y2="528.4" stroke="#111" stroke-width="0.8" />
<text x="65.0" y="437.2" font-size="4.8" text-anchor="start" fill="#333" >0</text>
<text x="158.5" y="437.2" font-size="4.8" text-anchor="end" fill="#333" >1.59</text>
<text x="65.0" y="525.0" font-size="4.8" text-anchor="start" fill="#333" >90.9</text>
<text x="158.5" y="525.0" font-size="4.8" text-anchor="end" fill="#333" >7.52</text>
<rect x="180" y="431.4" width="97" height="95.20000000000005" fill="none" stroke="#222" stroke-width="0.9"/>
<line x1="229" y1="431.4" x2="229" y2="526.6" stroke="#222" stroke-width="0.9" />
<line x1="180" y1="468.5" x2="277" y2="468.5" stroke="#222" stroke-width="0.9" />
<text x="175.7" y="442.1" font-size="4.6" text-anchor="end" fill="#222" >10<tspan dy="-1.6" font-size="3">5</tspan></text>
<line x1="176.8" y1="440.5" x2="180" y2="440.5" stroke="#111" stroke-width="0.9" />
<text x="175.7" y="462.6" font-size="4.6" text-anchor="end" fill="#222" >10<tspan dy="-1.6" font-size="3">4</tspan></text>
<line x1="176.8" y1="461" x2="180" y2="461" stroke="#111" stroke-width="0.9" />
<text x="175.7" y="484.90000000000003" font-size="4.6" text-anchor="end" fill="#222" >10<tspan dy="-1.6" font-size="3">3</tspan></text>
<line x1="176.8" y1="483.3" x2="180" y2="483.3" stroke="#111" stroke-width="0.9" />
<text x="175.7" y="507.8" font-size="4.6" text-anchor="end" fill="#222" >10<tspan dy="-1.6" font-size="3">2</tspan></text>
<line x1="176.8" y1="506.2" x2="180" y2="506.2" stroke="#111" stroke-width="0.9" />
<text x="175.7" y="519.0" font-size="4.6" text-anchor="end" fill="#222" >0</text>
<line x1="176.8" y1="517.4" x2="180" y2="517.4" stroke="#111" stroke-width="0.9" />
<line x1="178.2" y1="434" x2="180" y2="434" stroke="#111" stroke-width="0.8" />
<line x1="178.2" y1="436" x2="180" y2="436" stroke="#111" stroke-width="0.8" />
<line x1="178.2" y1="447" x2="180" y2="447" stroke="#111" stroke-width="0.8" />
<line x1="178.2" y1="451" x2="180" y2="451" stroke="#111" stroke-width="0.8" />
<line x1="178.2" y1="454" x2="180" y2="454" stroke="#111" stroke-width="0.8" />
<line x1="178.2" y1="456" x2="180" y2="456" stroke="#111" stroke-width="0.8" />
<line x1="178.2" y1="458" x2="180" y2="458" stroke="#111" stroke-width="0.8" />
<line x1="178.2" y1="468" x2="180" y2="468" stroke="#111" stroke-width="0.8" />
<line x1="178.2" y1="472" x2="180" y2="472" stroke="#111" stroke-width="0.8" />
<line x1="178.2" y1="475" x2="180" y2="475" stroke="#111" stroke-width="0.8" />
<line x1="178.2" y1="477" x2="180" y2="477" stroke="#111" stroke-width="0.8" />
<line x1="178.2" y1="479" x2="180" y2="479" stroke="#111" stroke-width="0.8" />
<line x1="178.2" y1="490" x2="180" y2="490" stroke="#111" stroke-width="0.8" />
<line x1="178.2" y1="494" x2="180" y2="494" stroke="#111" stroke-width="0.8" />
<line x1="178.2" y1="497" x2="180" y2="497" stroke="#111" stroke-width="0.8" />
<line x1="178.2" y1="500" x2="180" y2="500" stroke="#111" stroke-width="0.8" />
<line x1="178.2" y1="502" x2="180" y2="502" stroke="#111" stroke-width="0.8" />
<line x1="178.2" y1="511" x2="180" y2="511" stroke="#111" stroke-width="0.8" />
<line x1="178.2" y1="514" x2="180" y2="514" stroke="#111" stroke-width="0.8" />
<line x1="178.2" y1="521" x2="180" y2="521" stroke="#111" stroke-width="0.8" />
<line x1="178.2" y1="524" x2="180" y2="524" stroke="#111" stroke-width="0.8" />
<line x1="190.5" y1="526.6" x2="190.5" y2="529.6" stroke="#111" stroke-width="0.9" />
<text x="190.5" y="535.2" font-size="4.6" text-anchor="middle" fill="#222" >0</text>
<line x1="199" y1="526.6" x2="199" y2="529.6" stroke="#111" stroke-width="0.9" />
<text x="199" y="535.2" font-size="4.6" text-anchor="middle" fill="#222" >10<tspan dy="-1.6" font-size="3">2</tspan></text>
<line x1="223.5" y1="526.6" x2="223.5" y2="529.6" stroke="#111" stroke-width="0.9" />
<text x="223.5" y="535.2" font-size="4.6" text-anchor="middle" fill="#222" >10<tspan dy="-1.6" font-size="3">3</tspan></text>
<line x1="246" y1="526.6" x2="246" y2="529.6" stroke="#111" stroke-width="0.9" />
<text x="246" y="535.2" font-size="4.6" text-anchor="middle" fill="#222" >10<tspan dy="-1.6" font-size="3">4</tspan></text>
<line x1="270" y1="526.6" x2="270" y2="529.6" stroke="#111" stroke-width="0.9" />
<text x="270" y="535.2" font-size="4.6" text-anchor="middle" fill="#222" >10<tspan dy="-1.6" font-size="3">5</tspan></text>
<line x1="180" y1="526.6" x2="180" y2="528.4" stroke="#111" stroke-width="0.8" />
<line x1="183.1" y1="526.6" x2="183.1" y2="528.4" stroke="#111" stroke-width="0.8" />
<line x1="186.2" y1="526.6" x2="186.2" y2="528.4" stroke="#111" stroke-width="0.8" />
<line x1="189.29999999999998" y1="526.6" x2="189.29999999999998" y2="528.4" stroke="#111" stroke-width="0.8" />
<line x1="192.39999999999998" y1="526.6" x2="192.39999999999998" y2="528.4" stroke="#111" stroke-width="0.8" />
<line x1="195.49999999999997" y1="526.6" x2="195.49999999999997" y2="528.4" stroke="#111" stroke-width="0.8" />
<line x1="198.59999999999997" y1="526.6" x2="198.59999999999997" y2="528.4" stroke="#111" stroke-width="0.8" />
<line x1="201.69999999999996" y1="526.6" x2="201.69999999999996" y2="528.4" stroke="#111" stroke-width="0.8" />
<line x1="204.79999999999995" y1="526.6" x2="204.79999999999995" y2="528.4" stroke="#111" stroke-width="0.8" />
<line x1="207.89999999999995" y1="526.6" x2="207.89999999999995" y2="528.4" stroke="#111" stroke-width="0.8" />
<line x1="210.99999999999994" y1="526.6" x2="210.99999999999994" y2="528.4" stroke="#111" stroke-width="0.8" />
<line x1="214.09999999999994" y1="526.6" x2="214.09999999999994" y2="528.4" stroke="#111" stroke-width="0.8" />
<line x1="217.19999999999993" y1="526.6" x2="217.19999999999993" y2="528.4" stroke="#111" stroke-width="0.8" />
<line x1="220.29999999999993" y1="526.6" x2="220.29999999999993" y2="528.4" stroke="#111" stroke-width="0.8" />
<line x1="223.39999999999992" y1="526.6" x2="223.39999999999992" y2="528.4" stroke="#111" stroke-width="0.8" />
<line x1="226.49999999999991" y1="526.6" x2="226.49999999999991" y2="528.4" stroke="#111" stroke-width="0.8" />
<line x1="229.5999999999999" y1="526.6" x2="229.5999999999999" y2="528.4" stroke="#111" stroke-width="0.8" />
<line x1="232.6999999999999" y1="526.6" x2="232.6999999999999" y2="528.4" stroke="#111" stroke-width="0.8" />
<line x1="235.7999999999999" y1="526.6" x2="235.7999999999999" y2="528.4" stroke="#111" stroke-width="0.8" />
<line x1="238.8999999999999" y1="526.6" x2="238.8999999999999" y2="528.4" stroke="#111" stroke-width="0.8" />
<line x1="241.9999999999999" y1="526.6" x2="241.9999999999999" y2="528.4" stroke="#111" stroke-width="0.8" />
<line x1="245.09999999999988" y1="526.6" x2="245.09999999999988" y2="528.4" stroke="#111" stroke-width="0.8" />
<line x1="248.19999999999987" y1="526.6" x2="248.19999999999987" y2="528.4" stroke="#111" stroke-width="0.8" />
<line x1="251.29999999999987" y1="526.6" x2="251.29999999999987" y2="528.4" stroke="#111" stroke-width="0.8" />
<line x1="254.39999999999986" y1="526.6" x2="254.39999999999986" y2="528.4" stroke="#111" stroke-width="0.8" />
<line x1="257.4999999999999" y1="526.6" x2="257.4999999999999" y2="528.4" stroke="#111" stroke-width="0.8" />
<line x1="260.5999999999999" y1="526.6" x2="260.5999999999999" y2="528.4" stroke="#111" stroke-width="0.8" />
<line x1="263.69999999999993" y1="526.6" x2="263.69999999999993" y2="528.4" stroke="#111" stroke-width="0.8" />
<line x1="266.79999999999995" y1="526.6" x2="266.79999999999995" y2="528.4" stroke="#111" stroke-width="0.8" />
<line x1="269.9" y1="526.6" x2="269.9" y2="528.4" stroke="#111" stroke-width="0.8" />
<line x1="273.0" y1="526.6" x2="273.0" y2="528.4" stroke="#111" stroke-width="0.8" />
<line x1="276.1" y1="526.6" x2="276.1" y2="528.4" stroke="#111" stroke-width="0.8" />
<text x="181.5" y="437.2" font-size="4.8" text-anchor="start" fill="#333" >0.368</text>
<text x="275.8" y="437.2" font-size="4.8" text-anchor="end" fill="#333" >1.1</text>
<text x="181.5" y="525.0" font-size="4.8" text-anchor="start" fill="#333" >75.7</text>
<text x="275.8" y="525.0" font-size="4.8" text-anchor="end" fill="#333" >22.8</text>
<clipPath id="cd1"><rect x="63.5" y="431.4" width="96.19999999999999" height="95.20000000000005"/></clipPath>
<g clip-path="url(#cd1)" fill="none" stroke="#222" stroke-width="0.65" stroke-linejoin="round">
<path d="M59.5,471.9 L60.5,471.7 L62.0,471.5 L64.5,471.6 L65.5,471.8 L69.0,472.9 L70.5,473.2 L72.5,473.5 L75.5,473.6 L77.5,473.6 L81.0,473.4 L87.5,473.4 L98.5,472.9 L103.5,472.6 L114.0,472.8 L120.5,473.5 L122.0,473.7 L123.5,474.1 L125.3,474.9 L127.0,475.9 L128.3,476.9 L129.5,478.1 L130.4,479.4 L131.2,480.9 L131.7,482.4 L132.5,485.4 L133.6,487.9 L133.8,488.4 L133.8,489.4 L132.9,491.9 L132.0,495.4 L130.5,499.4 L129.3,501.4 L128.8,503.4 L128.5,504.2 L128.0,504.9 L126.5,506.4 L126.3,506.9 L126.3,507.4 L126.6,508.9 L126.5,509.4 L126.2,509.9 L125.6,510.4 L124.0,511.3 L123.5,511.7 L121.8,513.9 L121.2,514.4 L120.5,514.8 L118.0,515.9 L116.5,516.8 L115.5,517.3 L112.0,518.6 L109.5,519.0 L108.8,519.4 L108.6,519.9 L108.7,520.4 L109.3,521.4 L109.7,521.9 L110.3,522.4 L112.0,523.4 L113.0,524.1 L113.7,524.9 L114.2,525.9 L114.3,526.4 L114.3,527.4 L114.0,528.4 L113.3,529.4 L112.0,530.9 M68.3,530.9 L67.0,529.7 L66.4,528.9 L66.2,528.4 L66.0,527.4 L66.1,526.9 L66.5,525.9 L67.5,524.7 L70.0,522.4 L71.0,521.8 L73.9,520.4 L74.7,519.9 L75.2,519.4 L75.3,518.9 L75.0,518.4 L74.3,517.9 L72.4,516.9 L69.5,516.2 L67.0,515.2 L65.0,514.9 L62.5,513.8 L60.5,513.3 L59.5,513.0"/>
<path d="M59.5,472.5 L60.5,472.2 L62.0,472.1 L63.5,472.0 L64.5,472.1 L66.0,472.5 L68.5,473.5 L70.0,473.9 L72.0,474.3 L73.5,474.4 L77.0,474.4 L81.0,474.1 L88.5,474.1 L104.0,473.0 L113.0,473.4 L119.0,474.1 L121.0,474.4 L122.5,474.9 L123.5,475.4 L125.5,476.7 L126.7,477.9 L128.9,480.9 L129.4,481.9 L129.9,483.4 L130.3,489.4 L130.0,491.4 L129.6,492.9 L129.0,494.0 L128.0,495.0 L124.5,497.7 L121.0,499.6 L120.0,499.8 L118.0,499.6 L117.5,499.7 L116.9,499.9 L116.4,500.4 L116.2,500.9 L116.1,501.4 L116.2,501.9 L116.8,503.4 L116.9,503.9 L116.8,505.9 L116.9,506.9 L117.5,508.9 L117.3,509.9 L116.3,511.9 L115.5,512.9 L114.8,513.4 L114.0,513.8 L112.0,514.4 L110.5,514.7 L110.0,514.7 L108.5,514.3 L107.5,514.1 L105.5,514.4 L104.5,514.4 L104.0,514.3 L101.0,513.2 L98.5,511.6 L97.5,511.4 L97.0,511.4 L96.5,511.5 L96.0,511.8 L95.1,513.4 L94.5,514.2 L94.0,514.7 L93.0,515.3 L92.0,515.5 L88.5,515.5 L85.5,515.9 L84.0,515.9 L83.0,515.8 L80.0,514.8 L77.0,514.4 L73.5,513.5 L72.0,513.1 L68.5,511.8 L64.0,510.8 L62.5,510.2 L59.5,508.7 M70.6,530.9 L69.4,529.4 L68.7,528.4 L68.6,527.9 L68.5,527.4 L68.9,526.4 L70.0,524.9 L71.0,523.9 L72.0,523.2 L74.0,522.3 L77.0,521.4 L79.5,520.0 L80.5,519.6 L81.5,519.5 L84.5,519.6 L85.6,519.4 L88.0,518.7 L91.0,518.6 L92.5,518.7 L97.5,519.9 L100.0,520.1 L101.0,520.3 L105.0,521.5 L106.5,522.2 L110.7,525.4 L111.2,525.9 L111.5,526.4 L111.7,526.9 L111.7,527.4 L111.5,528.4 L110.8,529.9 L110.2,530.9"/>
<path d="M59.5,473.0 L60.5,472.7 L62.0,472.6 L63.5,472.6 L64.5,472.7 L66.0,473.1 L68.5,474.2 L70.5,474.9 L72.0,475.2 L73.0,475.3 L77.0,475.2 L81.5,474.7 L87.0,474.9 L90.0,474.8 L94.5,474.3 L103.5,473.5 L106.0,473.6 L109.5,473.8 L112.5,474.0 L114.0,474.2 L120.5,475.3 L122.0,475.8 L123.5,476.8 L124.3,477.4 L125.2,478.4 L126.5,480.8 L127.6,482.4 L127.8,482.9 L128.0,483.9 L127.8,486.4 L127.8,489.4 L127.6,490.4 L127.1,491.4 L126.5,492.4 L125.7,493.4 L125.0,494.0 L124.0,494.7 L121.5,495.4 L120.0,496.4 L119.5,496.6 L118.5,496.8 L115.0,497.0 L114.5,497.0 L113.5,496.7 L112.5,496.0 L111.3,494.9 L110.0,494.1 L109.5,493.9 L109.0,493.8 L108.5,493.8 L107.9,494.4 L107.6,495.4 L107.7,496.9 L108.1,499.4 L108.0,500.4 L107.7,501.4 L107.0,502.3 L106.5,502.6 L105.5,503.0 L103.5,503.0 L103.0,503.1 L102.0,503.8 L100.5,505.1 L99.5,505.7 L98.5,506.1 L95.5,506.6 L94.0,507.3 L93.2,507.9 L92.4,508.9 L91.8,509.9 L91.1,511.4 L90.7,511.9 L90.0,512.4 L89.0,512.4 L87.0,511.8 L86.0,511.8 L83.5,512.3 L82.5,512.4 L78.0,511.9 L75.5,511.0 L73.5,510.4 L70.5,508.7 L69.5,508.2 L67.0,507.6 L64.7,506.9 L62.5,506.5 L61.5,506.2 L60.5,505.7 L59.5,504.9 M72.0,530.9 L71.4,529.9 L71.0,528.9 L70.8,527.9 L70.8,526.9 L71.2,525.9 L71.5,525.4 L72.0,524.8 L73.0,524.1 L74.0,523.6 L77.5,522.4 L79.5,521.4 L80.5,521.0 L81.5,520.9 L84.6,520.9 L88.5,520.3 L91.0,520.2 L92.5,520.3 L96.0,520.9 L99.0,521.2 L100.0,521.4 L101.0,521.7 L105.0,523.2 L106.0,523.7 L107.0,524.4 L108.6,525.9 L109.2,526.9 L109.4,527.4 L109.5,528.4 L109.3,529.4 L109.1,529.9 L108.7,530.4 L108.0,530.9"/>
<path d="M59.5,473.5 L60.5,473.2 L62.0,473.0 L63.5,473.1 L64.5,473.2 L66.0,473.8 L68.0,474.8 L70.0,475.7 L71.0,476.0 L72.0,476.2 L77.5,475.8 L80.0,475.5 L81.5,475.4 L87.0,475.6 L90.5,475.6 L94.5,474.9 L103.5,473.9 L106.0,474.0 L109.4,474.4 L113.0,474.7 L120.0,476.3 L121.3,476.9 L122.5,477.7 L123.2,478.4 L124.0,479.5 L125.7,483.4 L125.9,484.9 L125.8,487.4 L125.5,488.9 L124.4,491.4 L124.0,492.1 L123.5,492.5 L123.0,492.8 L122.0,493.1 L118.5,494.0 L117.5,494.1 L115.5,493.5 L113.5,493.3 L111.5,492.4 L109.0,491.0 L108.5,490.8 L108.0,490.8 L107.5,490.9 L106.5,491.6 L105.7,492.4 L105.4,492.9 L105.1,494.9 L104.8,495.4 L104.4,495.9 L102.7,496.9 L102.2,497.4 L101.6,498.4 L100.5,500.9 L100.0,501.7 L99.5,502.2 L98.5,502.8 L97.5,503.0 L95.0,503.4 L92.0,504.6 L91.0,505.1 L89.8,505.9 L88.5,507.4 L87.5,507.9 L86.5,508.0 L86.0,507.9 L85.5,507.7 L84.0,506.7 L83.5,506.5 L83.0,506.4 L82.5,506.6 L81.5,507.2 L80.5,507.6 L79.0,507.5 L78.0,507.2 L77.1,506.9 L76.3,506.4 L75.7,505.9 L74.9,504.9 L73.4,503.4 L72.7,502.4 L72.2,500.4 L72.0,500.2 L71.5,499.9 L71.0,500.0 L70.5,500.4 L67.5,503.3 L66.5,503.7 L64.5,504.0 L62.5,504.0 L61.0,503.7 L59.5,502.9 M73.4,530.9 L73.0,530.4 L72.4,529.4 L72.2,528.4 L72.2,527.4 L72.5,526.4 L72.8,525.9 L73.3,525.4 L74.0,524.9 L80.0,522.3 L81.0,522.0 L85.0,521.8 L89.0,521.2 L91.0,521.1 L92.5,521.2 L95.5,521.8 L98.5,522.1 L99.5,522.3 L100.5,522.6 L102.5,523.6 L104.5,524.3 L105.5,524.9 L106.1,525.4 L106.9,526.4 L107.4,527.4 L107.5,528.4 L107.5,528.9 L107.2,529.4 L106.8,529.9 L105.3,530.9"/>
<path d="M59.5,474.1 L60.5,473.7 L62.0,473.5 L63.5,473.6 L64.5,473.8 L65.9,474.4 L70.0,476.8 L70.5,476.9 L71.5,477.1 L72.5,477.1 L75.0,476.7 L77.5,476.5 L81.5,476.0 L87.0,476.4 L91.0,476.3 L94.5,475.5 L101.0,474.6 L103.5,474.3 L106.0,474.4 L112.5,475.3 L113.5,475.6 L115.5,476.4 L118.0,477.0 L119.0,477.4 L120.0,478.0 L121.5,479.1 L122.5,480.2 L123.4,481.9 L123.9,483.4 L124.1,484.4 L124.2,485.4 L124.1,486.4 L123.8,487.9 L123.4,489.4 L122.9,490.4 L122.5,490.9 L121.5,491.6 L120.5,492.0 L119.5,492.1 L118.5,492.1 L118.0,491.9 L117.3,491.4 L116.5,490.4 L116.0,490.0 L115.5,489.7 L114.5,489.4 L112.5,489.2 L111.8,488.9 L111.3,488.4 L110.8,486.9 L110.5,486.4 L110.0,486.1 L109.5,486.1 L109.0,486.3 L108.0,487.3 L106.3,489.4 L104.0,491.6 L102.5,493.8 L102.0,494.5 L98.0,498.0 L97.0,498.6 L96.5,498.8 L95.5,498.9 L92.5,499.6 L91.0,499.8 L87.5,500.0 L85.0,499.8 L83.5,499.3 L81.0,497.8 L79.5,497.0 L79.0,496.7 L78.0,495.7 L77.5,495.4 L76.5,495.2 L75.0,495.1 L73.0,494.2 L72.5,494.2 L72.0,494.5 L71.5,495.0 L67.9,499.9 L67.5,500.4 L66.5,501.2 L65.5,501.6 L64.5,501.9 L63.5,502.2 L62.5,502.2 L61.0,502.1 L60.0,501.7 L59.5,501.4 M75.1,530.9 L74.4,530.4 L73.9,529.9 L73.6,529.4 L73.4,528.4 L73.5,527.4 L73.7,526.9 L74.1,526.4 L75.0,525.7 L78.5,523.9 L81.0,523.0 L82.0,522.8 L86.0,522.5 L89.0,522.0 L91.0,521.9 L92.5,522.0 L95.5,522.6 L98.0,522.9 L99.0,523.1 L100.0,523.5 L103.9,525.4 L104.5,525.8 L105.1,526.4 L105.5,526.9 L105.7,527.9 L105.7,528.4 L105.5,528.9 L105.2,529.4 L104.7,529.9 L103.3,530.9"/>
<path d="M59.5,474.6 L60.5,474.2 L61.5,474.0 L63.0,474.0 L64.0,474.2 L65.5,474.9 L69.5,477.7 L70.5,478.1 L71.5,478.2 L72.5,478.0 L74.5,477.5 L75.5,477.3 L81.0,476.8 L82.5,476.8 L86.5,477.1 L91.0,477.2 L92.0,477.0 L94.0,476.3 L95.0,476.1 L100.5,475.1 L103.5,474.7 L105.0,474.8 L106.0,474.9 L112.0,476.1 L112.9,476.4 L115.0,477.6 L117.0,478.2 L118.0,478.7 L121.0,480.8 L121.6,481.4 L122.0,481.9 L122.5,482.9 L122.7,484.4 L122.7,485.4 L122.5,486.2 L121.5,488.6 L121.0,489.5 L120.5,489.9 L120.0,490.0 L119.5,490.0 L119.3,489.9 L119.0,489.6 L118.3,488.4 L117.5,487.7 L116.5,487.3 L115.5,487.2 L114.5,487.0 L113.5,486.4 L112.0,484.9 L111.2,484.4 L110.5,484.1 L110.0,484.1 L109.5,484.2 L108.5,484.9 L108.0,485.5 L105.6,488.9 L103.2,491.4 L101.5,493.5 L100.5,494.5 L99.0,495.7 L97.5,496.7 L96.5,497.1 L92.5,498.4 L91.0,498.5 L87.5,498.3 L86.0,498.1 L84.5,497.6 L83.5,497.1 L82.7,496.4 L81.0,494.1 L80.2,493.4 L77.5,492.4 L74.5,490.8 L73.5,490.5 L72.5,490.4 L72.0,490.5 L71.5,490.8 L70.5,491.9 L69.9,492.9 L68.9,495.4 L68.1,496.9 L66.6,498.9 L65.5,499.9 L64.5,500.3 L63.5,500.6 L62.5,500.7 L61.5,500.7 L60.5,500.4 L60.0,500.0 L59.5,499.2 M77.5,530.9 L76.5,530.4 L75.5,529.8 L75.0,529.1 L74.8,528.4 L74.8,527.9 L75.0,527.5 L75.5,526.9 L76.9,525.9 L78.5,525.0 L79.5,524.5 L82.0,523.7 L84.0,523.4 L87.0,523.1 L89.5,522.7 L91.0,522.6 L92.5,522.7 L95.5,523.4 L98.5,523.9 L99.7,524.4 L102.9,526.4 L103.4,526.9 L103.7,527.4 L103.9,527.9 L103.8,528.4 L103.7,528.9 L103.3,529.4 L102.5,530.2 L101.1,530.9"/>
<path d="M59.5,475.3 L60.5,474.7 L61.5,474.5 L63.0,474.5 L64.0,474.8 L65.0,475.3 L65.8,475.9 L69.0,478.7 L70.0,479.1 L71.0,479.2 L72.5,479.0 L75.5,478.0 L80.5,477.6 L83.0,477.6 L87.0,478.0 L90.5,478.2 L91.5,478.2 L92.5,477.8 L94.4,476.9 L95.5,476.6 L101.5,475.3 L103.0,475.2 L104.5,475.1 L105.5,475.2 L107.0,475.6 L109.9,476.4 L111.3,476.9 L112.0,477.4 L112.4,477.9 L112.6,478.4 L112.6,478.9 L112.3,479.9 L111.6,480.9 L110.7,481.9 L109.0,483.2 L108.0,484.2 L105.2,488.4 L101.0,493.2 L100.0,494.1 L98.5,495.2 L97.0,496.1 L96.0,496.5 L92.5,497.5 L91.5,497.7 L90.5,497.6 L88.0,497.3 L86.0,496.8 L85.1,496.4 L84.4,495.9 L83.7,494.9 L82.5,492.9 L82.0,492.4 L81.5,492.1 L80.5,491.6 L78.0,490.8 L73.0,488.4 L72.0,488.1 L71.5,488.2 L71.2,488.4 L70.5,489.1 L69.0,491.8 L67.4,495.4 L66.1,497.4 L65.0,498.6 L64.5,498.9 L63.5,499.3 L62.5,499.4 L62.0,499.3 L61.0,498.8 L60.5,498.4 L59.5,497.2 M120.5,485.1 L120.0,485.3 L119.5,485.1 L118.9,484.4 L118.7,483.9 L118.7,483.4 L119.1,482.9 L119.5,482.7 L120.0,482.7 L120.5,483.0 L120.7,483.4 L120.9,483.9 L120.9,484.4 L120.5,485.1 M79.5,530.9 L78.6,530.4 L77.9,529.9 L77.0,528.9 L76.8,528.4 L76.9,527.9 L77.2,527.4 L77.6,526.9 L78.5,526.2 L79.5,525.6 L81.2,524.9 L83.5,524.2 L85.0,523.9 L87.5,523.8 L90.0,523.4 L91.0,523.3 L92.5,523.4 L95.0,524.1 L98.0,524.8 L99.5,525.5 L101.3,526.9 L101.7,527.4 L101.9,527.9 L101.9,528.4 L101.7,528.9 L101.4,529.4 L100.7,529.9 L98.9,530.9"/>
<path d="M59.5,476.3 L60.0,475.7 L60.5,475.4 L61.0,475.2 L62.0,475.0 L63.0,475.1 L63.5,475.3 L64.5,475.8 L65.9,476.9 L68.0,479.2 L68.5,479.6 L69.5,480.0 L70.5,480.2 L71.5,480.1 L72.5,479.9 L75.0,478.9 L76.0,478.6 L78.0,478.4 L83.0,478.4 L87.0,478.9 L90.5,479.2 L91.5,479.2 L92.5,478.9 L94.5,477.6 L96.0,477.0 L100.5,475.9 L102.0,475.7 L103.5,475.5 L105.0,475.6 L106.0,475.8 L107.5,476.3 L109.0,476.9 L109.9,477.4 L110.4,477.9 L110.6,478.4 L110.6,478.9 L110.3,479.9 L110.0,480.4 L107.5,483.8 L105.3,487.4 L104.2,488.9 L101.0,492.4 L99.5,493.8 L97.5,495.2 L96.0,495.9 L92.5,496.8 L91.5,497.0 L90.0,496.8 L87.0,496.2 L86.0,495.7 L85.1,494.9 L84.5,493.9 L83.5,491.5 L82.9,490.9 L82.0,490.5 L80.0,489.7 L76.0,488.4 L72.0,486.4 L71.0,486.1 L70.5,486.2 L69.9,486.9 L69.5,487.7 L68.4,490.9 L67.0,494.0 L66.0,495.7 L65.0,496.9 L64.5,497.4 L63.5,498.0 L63.0,498.1 L62.0,497.9 L61.0,497.4 L60.0,496.4 L59.5,495.8 M82.8,530.9 L80.5,530.3 L79.8,529.9 L79.3,529.4 L79.0,528.9 L78.9,528.4 L79.0,527.9 L79.3,527.4 L79.9,526.9 L82.3,525.4 L84.0,524.8 L85.0,524.6 L87.5,524.5 L90.0,524.1 L91.0,524.0 L92.5,524.2 L94.5,524.9 L97.0,525.5 L98.0,525.9 L99.3,526.9 L99.7,527.4 L100.0,527.9 L100.0,528.4 L99.8,528.9 L99.4,529.4 L98.8,529.9 L98.0,530.4 L97.0,530.9"/>
<path d="M59.5,478.3 L60.0,476.9 L60.4,476.4 L61.0,475.9 L62.0,475.7 L63.0,475.8 L64.0,476.3 L65.3,477.4 L66.3,478.4 L67.5,480.0 L68.5,481.0 L69.5,481.5 L70.5,481.7 L71.5,481.5 L72.5,481.1 L74.9,479.9 L76.0,479.4 L78.0,479.1 L80.0,479.1 L83.5,479.2 L87.0,479.9 L90.0,480.3 L91.0,480.3 L91.5,480.2 L92.5,479.8 L95.0,478.1 L96.0,477.7 L100.0,476.5 L101.5,476.2 L103.0,476.0 L104.0,476.0 L105.0,476.1 L106.2,476.4 L107.3,476.9 L108.2,477.4 L108.8,477.9 L109.1,478.4 L109.2,478.9 L109.2,479.4 L108.8,480.4 L105.1,486.9 L104.1,488.4 L101.0,491.8 L99.5,493.2 L97.5,494.7 L96.0,495.4 L91.5,496.3 L90.0,496.2 L88.0,495.7 L87.3,495.4 L86.5,494.9 L86.0,494.4 L85.6,493.9 L85.2,492.9 L84.6,489.9 L84.3,489.4 L84.0,489.1 L83.5,488.9 L81.9,488.4 L78.0,487.6 L76.0,487.0 L73.9,485.9 L73.2,485.4 L71.5,483.9 L71.0,483.6 L70.5,483.6 L70.0,483.7 L69.5,484.1 L69.0,484.9 L68.5,486.8 L67.9,489.9 L67.2,491.9 L66.0,494.1 L65.5,494.8 L64.5,495.8 L63.5,496.6 L63.0,496.7 L62.5,496.8 L62.0,496.6 L61.0,496.1 L60.5,495.7 L59.9,494.9 L59.5,494.2 M86.4,530.9 L83.5,530.2 L82.6,529.9 L81.5,529.4 L81.0,528.9 L80.9,528.4 L81.1,527.9 L81.4,527.4 L82.4,526.4 L83.1,525.9 L84.0,525.5 L85.5,525.2 L88.0,525.2 L90.0,524.9 L91.0,524.8 L92.5,525.0 L94.0,525.6 L96.5,526.4 L97.5,527.0 L97.9,527.4 L98.2,527.9 L98.3,528.4 L98.1,528.9 L97.7,529.4 L97.0,529.9 L94.5,530.9"/>
<path d="M59.5,480.0 L60.9,477.4 L61.3,476.9 L62.0,476.6 L62.5,476.6 L63.0,476.8 L63.5,477.0 L64.5,477.7 L65.7,478.9 L67.3,481.4 L67.7,482.4 L67.8,483.4 L67.7,486.4 L67.3,488.9 L67.0,490.4 L66.4,491.9 L65.9,492.9 L65.2,493.9 L64.5,494.6 L63.5,495.2 L62.5,495.4 L62.0,495.3 L61.5,495.1 L61.0,494.8 L60.5,494.2 L60.1,493.4 L59.8,492.4 L59.5,490.1 M92.5,495.5 L91.5,495.7 L90.0,495.5 L88.0,494.9 L87.1,494.4 L86.6,493.9 L86.3,493.4 L85.9,492.4 L85.8,491.4 L85.7,488.9 L85.6,488.4 L85.3,487.9 L84.5,487.5 L82.0,486.8 L79.5,486.6 L78.5,486.4 L77.1,485.9 L76.1,485.4 L75.3,484.9 L74.8,484.4 L74.1,483.4 L74.0,482.9 L74.0,482.4 L74.2,481.9 L74.7,481.4 L75.3,480.9 L76.5,480.3 L78.0,479.9 L79.5,479.8 L83.5,480.1 L84.7,480.4 L86.5,481.1 L89.0,481.8 L90.0,481.9 L90.5,481.7 L91.5,481.2 L95.0,478.8 L96.0,478.3 L99.5,477.1 L102.0,476.5 L103.5,476.5 L105.0,476.7 L106.0,477.1 L107.3,477.9 L107.8,478.4 L108.0,478.9 L108.0,479.4 L107.7,480.4 L106.7,482.9 L106.2,483.9 L104.6,486.9 L103.6,488.4 L100.5,491.7 L99.0,493.0 L97.5,494.2 L96.0,494.9 L92.5,495.5 M93.5,530.4 L92.5,530.7 L91.0,530.7 L89.5,530.6 L88.0,530.4 L86.0,529.9 L84.0,529.2 L83.4,528.9 L83.0,528.5 L82.9,527.9 L83.1,527.4 L83.5,526.9 L84.1,526.4 L85.0,526.1 L88.0,526.1 L90.0,525.7 L91.0,525.6 L91.5,525.7 L92.5,526.0 L95.0,527.1 L95.6,527.4 L96.1,527.9 L96.2,528.4 L96.0,528.9 L95.4,529.4 L94.6,529.9 L93.5,530.4"/>
<path d="M92.0,494.9 L90.5,495.0 L89.5,494.8 L88.5,494.4 L87.5,493.8 L86.9,492.9 L86.6,491.9 L86.5,490.9 L86.6,489.9 L87.0,487.4 L87.1,484.9 L91.0,482.6 L95.0,479.5 L96.0,478.9 L97.5,478.3 L100.5,477.3 L102.5,477.0 L104.0,477.1 L104.8,477.4 L105.7,477.9 L106.2,478.4 L106.6,478.9 L106.7,479.4 L106.7,480.4 L106.4,481.9 L105.9,483.4 L104.4,486.4 L103.8,487.4 L103.1,488.4 L100.0,491.6 L98.0,493.2 L97.0,493.9 L95.5,494.5 L93.5,494.7 L92.0,494.9 M59.5,481.0 L61.0,479.0 L61.5,478.4 L62.0,478.0 L62.5,477.9 L63.0,477.9 L64.0,478.3 L64.5,478.7 L65.1,479.4 L65.8,480.4 L66.2,481.4 L66.8,483.9 L67.0,485.9 L66.9,486.9 L66.5,489.4 L65.9,491.4 L65.5,492.2 L65.0,493.0 L64.5,493.5 L63.5,494.1 L62.5,494.2 L62.0,494.1 L61.5,493.8 L61.1,493.4 L60.6,492.4 L60.1,489.9 L59.5,488.4 M85.0,486.0 L84.0,485.9 L82.5,485.6 L80.0,485.5 L79.0,485.2 L78.0,484.6 L77.3,483.9 L76.8,482.9 L76.8,482.4 L76.9,481.9 L77.3,481.4 L78.0,481.0 L79.5,480.7 L80.5,480.7 L82.4,480.9 L84.0,481.4 L84.7,481.9 L86.4,483.9 L86.8,484.4 L86.9,484.9 L86.7,485.4 L85.5,485.9 L85.0,486.0 M92.5,529.5 L92.0,529.7 L91.0,529.7 L89.5,529.5 L87.9,528.9 L87.0,528.4 L86.4,527.9 L88.0,527.5 L90.0,526.8 L91.0,526.7 L91.5,526.8 L92.7,527.4 L93.3,527.9 L93.5,528.4 L93.4,528.9 L92.8,529.4 L92.5,529.5"/>
<path d="M95.5,493.9 L93.0,494.1 L91.5,494.3 L90.5,494.3 L89.0,493.9 L88.0,493.2 L87.5,492.4 L87.3,491.9 L87.2,491.4 L87.2,490.4 L87.6,488.9 L88.7,485.9 L89.3,484.9 L89.8,484.4 L91.5,483.1 L94.0,480.9 L95.0,480.2 L96.0,479.6 L98.7,478.4 L101.0,477.7 L102.5,477.6 L103.5,477.8 L104.0,478.1 L105.0,478.9 L105.4,479.4 L105.8,480.4 L105.8,481.4 L105.5,482.9 L103.6,486.9 L102.6,488.4 L100.0,491.1 L97.0,493.4 L96.0,493.8 L95.5,493.9 M59.5,482.0 L60.0,481.3 L61.0,480.2 L62.0,479.3 L62.5,479.1 L63.0,479.0 L63.5,479.2 L64.0,479.4 L64.5,479.9 L65.1,480.9 L65.4,481.9 L66.2,484.9 L66.3,486.4 L65.5,490.4 L65.0,491.6 L64.4,492.4 L63.8,492.9 L63.0,493.1 L62.5,493.1 L62.0,492.8 L61.6,492.4 L61.4,491.9 L60.6,489.4 L59.5,487.2 M82.0,484.1 L81.0,484.3 L80.5,484.3 L80.0,484.2 L79.5,484.0 L79.0,483.4 L78.9,482.9 L78.9,482.4 L79.5,481.9 L80.0,481.8 L81.0,481.8 L82.0,482.1 L82.5,482.4 L82.8,482.9 L82.8,483.4 L82.3,483.9 L82.0,484.1"/>
<path d="M92.0,493.4 L90.5,493.5 L89.5,493.2 L89.0,492.9 L88.5,492.4 L88.1,491.4 L88.1,490.4 L88.3,489.4 L89.1,486.9 L89.6,485.9 L90.0,485.4 L90.5,484.8 L94.5,481.3 L96.0,480.4 L99.3,478.9 L101.0,478.5 L102.0,478.5 L103.0,478.8 L103.9,479.4 L104.5,480.1 L104.9,480.9 L105.0,481.4 L104.9,482.4 L103.4,486.4 L102.4,487.9 L100.5,490.0 L99.5,490.9 L96.5,493.0 L95.5,493.3 L93.0,493.3 L92.0,493.4 M59.5,483.5 L60.0,482.4 L60.5,481.7 L61.0,481.3 L62.0,480.6 L62.5,480.5 L63.0,480.5 L63.5,480.7 L64.1,481.4 L64.5,482.2 L65.2,483.9 L65.5,484.9 L65.6,485.9 L65.5,486.9 L64.7,489.9 L64.5,490.6 L64.0,491.4 L63.5,491.7 L63.0,491.8 L62.5,491.6 L62.3,491.4 L62.0,490.9 L61.2,488.9 L60.0,486.9 L59.5,485.5"/>
<path d="M95.5,492.4 L95.0,492.5 L93.0,492.3 L91.0,492.5 L90.5,492.4 L90.0,492.2 L89.5,491.9 L89.2,491.4 L89.1,490.9 L89.1,490.4 L89.6,487.9 L90.2,486.4 L91.0,485.4 L91.5,484.9 L92.7,483.9 L94.5,482.2 L95.5,481.5 L98.0,480.7 L99.7,479.9 L100.5,479.7 L101.5,479.7 L102.5,480.1 L103.0,480.4 L103.5,480.9 L103.7,481.4 L103.8,481.9 L103.7,482.9 L103.1,485.4 L102.5,486.9 L101.3,488.4 L99.3,490.4 L98.5,491.0 L97.0,491.9 L96.0,492.3 L95.5,492.4 M63.0,489.1 L62.5,488.8 L61.0,487.2 L60.3,485.9 L60.1,484.9 L60.1,483.9 L60.5,482.9 L61.0,482.3 L61.5,482.0 L62.0,481.9 L62.5,481.9 L63.0,482.1 L63.5,482.6 L64.0,483.2 L64.4,483.9 L64.7,484.9 L64.8,485.4 L64.7,486.4 L64.5,487.1 L63.5,488.8 L63.0,489.1"/>
<path d="M96.5,491.1 L95.5,491.3 L94.5,491.3 L91.5,491.0 L91.0,490.8 L90.6,490.4 L90.4,489.9 L90.4,489.4 L90.6,487.9 L91.0,486.7 L91.5,486.0 L92.0,485.5 L94.0,484.1 L95.4,482.9 L96.0,482.6 L96.6,482.4 L100.0,481.7 L101.0,481.8 L101.5,482.0 L101.9,482.4 L102.2,482.9 L102.3,483.9 L102.2,485.4 L102.0,486.2 L101.7,486.9 L100.5,488.4 L99.0,489.9 L98.0,490.5 L96.5,491.1 M63.0,486.7 L62.5,486.8 L62.0,486.6 L61.5,486.2 L61.1,485.4 L61.0,484.4 L61.1,483.9 L61.5,483.4 L62.0,483.2 L62.5,483.3 L63.0,483.6 L63.6,484.4 L63.8,485.4 L63.7,485.9 L63.5,486.3 L63.0,486.7"/>
<path d="M94.0,489.9 L93.0,489.9 L92.5,489.8 L92.0,489.4 L91.7,488.9 L91.6,488.4 L91.7,487.4 L92.0,486.9 L92.5,486.3 L93.5,485.7 L95.5,485.3 L97.0,484.2 L98.0,483.8 L99.0,483.7 L99.5,483.7 L100.0,483.9 L100.5,484.3 L100.8,484.9 L100.8,485.4 L100.7,486.4 L99.9,487.9 L99.0,488.9 L98.3,489.4 L97.5,489.7 L95.5,489.7 L94.0,489.9"/>
</g>
<path d="M93,481.6 C97,480 102,478.5 106.5,477.7" stroke="#111" stroke-width="2" fill="none" stroke-linecap="round"/>
<path d="M96,495.5 C100,494 104,490.5 106.5,486.5" stroke="#333" stroke-width="1.1" fill="none" stroke-linecap="round"/>
<path d="M64.8,475.5 C67.6,480 67.8,488 64.8,494.5" stroke="#111" stroke-width="1.5" fill="none" stroke-linecap="round"/>
<rect x="139" y="437" width="0.9" height="0.9" fill="#bbb"/>
<rect x="147" y="438" width="0.9" height="0.9" fill="#bbb"/>
<rect x="151" y="436" width="0.9" height="0.9" fill="#bbb"/>
<rect x="156" y="438" width="0.9" height="0.9" fill="#bbb"/>
<rect x="143" y="443" width="0.9" height="0.9" fill="#bbb"/>
<rect x="148" y="447" width="0.9" height="0.9" fill="#bbb"/>
<rect x="154" y="444" width="0.9" height="0.9" fill="#bbb"/>
<rect x="145" y="466" width="0.9" height="0.9" fill="#bbb"/>
<rect x="150" y="462" width="0.9" height="0.9" fill="#bbb"/>
<rect x="136" y="470" width="0.9" height="0.9" fill="#bbb"/>
<clipPath id="cd2"><rect x="180" y="431.4" width="97" height="95.20000000000005"/></clipPath>
<g clip-path="url(#cd2)" fill="none" stroke="#222" stroke-width="0.65" stroke-linejoin="round">
<path d="M176.0,472.3 L178.5,472.0 L180.0,472.0 L181.0,472.1 L183.0,472.6 L187.5,474.0 L189.0,474.3 L190.5,474.4 L192.0,474.3 L194.5,473.6 L195.5,473.5 L205.5,472.3 L213.0,471.6 L216.5,471.4 L224.5,471.7 L229.5,471.6 L235.0,471.6 L240.0,472.1 L243.5,472.5 L251.0,472.0 L253.5,472.0 L255.5,472.1 L257.0,472.4 L258.4,472.9 L259.0,473.4 L259.3,473.9 L259.4,474.4 L259.3,474.9 L258.8,476.4 L258.7,477.4 L259.4,479.4 L259.6,480.4 L260.2,487.4 L260.0,488.4 L259.7,489.4 L258.0,492.4 L257.5,493.0 L254.6,495.9 L253.5,496.7 L250.5,498.2 L247.5,500.2 L243.5,502.2 L242.5,502.6 L241.0,503.0 L237.5,503.4 L235.5,503.8 L232.5,504.3 L228.4,505.9 L227.5,506.4 L227.0,506.9 L226.5,507.9 L225.4,511.9 L225.2,514.4 L225.0,514.9 L224.1,516.4 L224.0,516.9 L224.1,517.4 L224.8,518.9 L225.0,519.9 L224.8,521.4 L224.0,524.8 L223.7,525.9 L223.1,526.9 L222.1,527.9 L220.6,528.9 L217.2,530.9 M185.7,530.9 L185.1,529.9 L184.8,528.4 L184.8,527.4 L184.9,526.9 L185.4,525.9 L186.5,524.7 L188.0,523.6 L189.0,523.1 L192.0,522.1 L194.5,521.5 L197.0,521.2 L198.5,521.1 L202.0,521.3 L205.5,521.3 L215.0,521.9 L215.5,521.8 L216.0,521.5 L216.3,520.9 L216.4,519.9 L216.6,517.9 L216.6,516.9 L216.3,515.9 L216.0,515.3 L215.0,513.9 L214.6,512.9 L214.5,511.4 L214.6,507.9 L214.4,506.9 L213.8,505.9 L213.2,505.4 L212.3,504.9 L210.3,504.4 L207.5,504.0 L206.5,504.1 L205.5,504.4 L204.5,505.0 L202.4,506.4 L201.0,507.1 L199.5,507.3 L198.0,507.1 L196.5,506.5 L195.0,505.4 L194.1,504.4 L192.7,502.4 L192.0,501.7 L191.4,501.4 L190.5,501.0 L189.0,500.7 L187.5,500.7 L184.5,501.1 L179.5,502.3 L178.5,502.4 L177.5,502.3 L176.0,501.9 M247.0,529.0 L245.5,529.3 L244.0,529.4 L243.0,529.3 L242.0,529.0 L240.6,528.4 L240.0,527.9 L239.7,527.4 L239.7,526.9 L239.8,526.4 L240.5,525.7 L241.5,525.2 L242.5,524.8 L244.0,524.5 L245.0,524.5 L246.5,524.6 L247.8,524.9 L249.0,525.4 L249.7,525.9 L250.2,526.4 L250.4,526.9 L250.3,527.4 L249.9,527.9 L249.1,528.4 L247.0,529.0"/>
<path d="M176.0,473.1 L177.5,472.8 L178.5,472.8 L179.5,472.8 L181.0,473.0 L183.5,473.9 L186.5,475.4 L187.5,475.8 L189.0,476.1 L190.5,476.2 L192.5,475.9 L195.0,475.3 L199.5,474.3 L205.5,473.3 L213.5,472.3 L215.5,472.1 L218.0,472.1 L225.0,472.4 L230.0,472.3 L234.5,472.4 L239.5,472.9 L242.5,473.3 L244.0,473.4 L251.0,472.8 L252.5,472.8 L254.1,472.9 L255.8,473.4 L256.4,473.9 L256.5,474.4 L256.3,474.9 L255.8,475.4 L253.4,476.9 L252.8,477.4 L252.5,477.9 L252.5,478.4 L252.8,478.9 L253.8,480.4 L255.9,484.4 L256.6,485.9 L256.8,486.9 L256.7,487.4 L256.2,488.4 L252.1,493.9 L248.1,497.4 L247.0,498.3 L246.0,498.9 L243.5,500.0 L242.0,500.6 L241.0,500.7 L237.5,500.9 L234.5,501.6 L232.0,502.1 L229.5,502.8 L226.5,503.4 L221.5,505.8 L221.0,505.8 L219.5,504.0 L218.5,503.4 L217.5,503.2 L215.0,503.1 L211.5,502.7 L210.2,502.4 L207.5,501.6 L205.5,501.4 L204.5,501.5 L203.7,501.9 L202.3,503.9 L201.8,504.4 L201.1,504.9 L200.5,505.2 L199.5,505.2 L198.5,504.9 L196.3,503.4 L195.5,502.4 L194.5,500.7 L193.8,499.9 L192.5,499.3 L189.5,498.7 L188.5,498.7 L187.0,498.9 L183.5,499.7 L181.0,500.5 L179.5,500.8 L178.5,500.9 L177.5,500.8 L176.0,500.4 M220.5,515.5 L220.0,515.7 L219.5,515.6 L219.0,515.3 L218.5,514.8 L216.6,511.9 L216.4,511.4 L216.2,510.4 L216.4,509.4 L216.6,508.9 L217.0,508.3 L217.5,507.8 L218.5,507.1 L219.5,506.7 L220.5,506.4 L221.0,506.4 L221.5,506.9 L222.4,508.4 L222.8,509.4 L222.9,509.9 L222.7,510.9 L221.7,513.9 L221.1,514.9 L220.5,515.5 M187.8,530.9 L187.3,530.4 L186.8,529.4 L186.6,528.9 L186.6,527.9 L186.7,526.9 L186.9,526.4 L187.6,525.4 L188.1,524.9 L188.8,524.4 L189.9,523.9 L193.0,522.8 L197.0,522.2 L199.0,522.0 L205.0,522.2 L211.5,523.2 L213.0,523.8 L215.0,525.0 L216.7,525.9 L217.3,526.4 L217.5,526.9 L217.3,527.4 L216.9,527.9 L214.7,529.9 L213.1,530.9 M245.0,527.4 L244.5,527.5 L243.7,527.4 L243.4,526.9 L244.0,526.4 L245.0,526.4 L245.5,526.9 L245.0,527.4"/>
<path d="M176.0,474.0 L177.0,473.7 L178.5,473.6 L179.5,473.7 L180.5,473.9 L182.0,474.4 L183.0,474.9 L183.8,475.4 L185.5,476.7 L186.5,477.3 L188.0,477.7 L190.5,478.0 L191.6,477.9 L194.5,477.4 L198.5,476.3 L201.5,475.7 L206.0,474.5 L213.5,473.0 L215.5,472.8 L222.0,472.9 L225.0,473.1 L230.0,473.0 L234.0,473.1 L240.0,473.9 L245.5,475.0 L246.5,475.0 L248.5,474.8 L249.5,474.8 L249.8,474.9 L248.5,475.7 L248.0,476.2 L247.8,476.9 L247.9,477.4 L248.2,477.9 L248.9,478.9 L249.9,479.9 L251.5,481.4 L251.9,481.9 L252.3,482.9 L252.8,484.4 L253.1,485.9 L252.9,486.9 L252.0,488.6 L251.3,490.4 L250.8,491.4 L249.3,493.4 L247.0,495.9 L245.7,496.9 L244.5,497.4 L242.0,498.0 L240.0,498.7 L239.0,498.9 L237.0,499.0 L234.0,498.9 L232.5,499.0 L230.7,499.4 L228.0,500.4 L226.5,500.7 L221.5,501.0 L218.0,500.7 L215.0,501.1 L214.0,501.1 L211.5,500.8 L208.5,499.9 L204.5,499.2 L203.5,499.1 L200.5,499.4 L199.5,499.3 L198.5,499.0 L198.0,498.8 L195.5,497.2 L194.5,496.8 L193.5,496.6 L192.0,496.7 L190.0,496.5 L189.0,496.6 L187.5,496.9 L181.5,499.0 L180.5,499.3 L179.5,499.4 L178.0,499.4 L177.0,499.3 L176.0,498.9 M219.5,511.1 L219.0,511.0 L218.9,510.9 L218.8,510.4 L219.0,510.1 L219.5,510.1 L219.8,510.4 L219.7,510.9 L219.5,511.1 M189.7,530.9 L189.2,530.4 L188.5,529.4 L188.3,528.9 L188.2,527.9 L188.4,526.9 L188.6,526.4 L189.0,525.9 L189.5,525.4 L191.4,524.4 L193.5,523.7 L198.0,523.0 L199.5,522.9 L203.5,522.9 L205.0,523.1 L210.5,524.5 L211.5,524.8 L212.0,525.2 L212.7,525.9 L212.9,526.4 L213.0,527.4 L213.0,527.9 L212.7,528.9 L212.3,529.4 L210.9,530.9"/>
<path d="M176.0,475.0 L177.0,474.6 L178.0,474.4 L179.0,474.5 L180.0,474.7 L181.5,475.4 L182.5,476.0 L183.6,476.9 L185.0,478.4 L186.0,479.0 L187.0,479.2 L188.5,479.3 L190.5,479.7 L191.5,479.7 L194.5,479.4 L195.5,479.1 L198.5,478.0 L202.0,477.5 L207.5,475.5 L213.0,474.0 L214.5,473.7 L216.0,473.6 L218.5,473.7 L222.0,473.6 L225.5,473.9 L230.5,473.8 L233.5,474.1 L236.5,474.6 L239.5,475.0 L241.0,475.4 L242.5,476.1 L243.0,476.4 L245.0,478.2 L247.0,479.7 L247.8,480.4 L249.8,482.9 L250.2,483.9 L250.3,484.9 L250.2,485.9 L248.8,490.4 L248.4,491.4 L248.0,492.0 L247.3,492.9 L246.0,494.2 L245.0,494.9 L244.0,495.3 L242.0,495.4 L241.0,495.6 L240.1,495.9 L238.5,496.7 L237.5,497.0 L236.5,497.0 L234.0,496.6 L232.5,496.7 L229.0,498.1 L227.0,498.7 L226.0,498.9 L224.5,499.1 L221.5,498.9 L219.0,498.9 L214.5,499.4 L212.5,499.3 L211.5,499.1 L208.5,498.2 L201.5,497.0 L198.5,495.8 L195.6,494.4 L194.5,494.1 L193.5,494.2 L192.0,494.5 L189.5,494.4 L188.5,494.5 L186.5,495.3 L183.0,497.2 L181.5,497.8 L180.5,498.1 L179.5,498.2 L178.0,498.1 L177.0,497.9 L176.0,497.5 M192.1,530.9 L191.2,530.4 L190.6,529.9 L190.3,529.4 L190.1,528.9 L190.0,527.9 L190.1,527.4 L190.3,526.9 L190.7,526.4 L192.1,525.4 L193.5,524.8 L198.0,523.8 L199.5,523.7 L203.5,523.7 L205.0,524.0 L207.0,524.7 L210.3,526.4 L210.7,526.9 L211.0,527.4 L211.1,527.9 L210.8,528.9 L210.6,529.4 L210.0,530.0 L209.5,530.4 L208.7,530.9"/>
<path d="M176.0,476.1 L177.0,475.6 L178.0,475.3 L179.0,475.3 L180.0,475.7 L181.0,476.2 L181.9,476.9 L184.5,479.7 L186.0,480.8 L187.0,481.2 L188.5,481.5 L190.0,481.9 L190.5,481.9 L193.0,481.3 L196.0,480.7 L199.0,479.8 L202.5,479.0 L206.0,477.4 L212.5,475.1 L214.0,474.7 L215.5,474.5 L218.5,474.6 L222.0,474.4 L225.5,474.6 L230.0,474.7 L232.0,474.9 L233.5,475.1 L236.0,475.7 L239.0,476.1 L240.5,476.8 L242.0,477.7 L245.3,480.4 L246.2,481.4 L246.8,482.4 L247.8,484.4 L248.0,485.0 L248.1,485.9 L248.1,486.9 L247.8,487.9 L247.0,489.9 L246.5,490.7 L245.5,491.8 L244.8,492.4 L244.0,492.9 L241.0,493.6 L237.5,494.9 L236.5,495.1 L233.5,495.1 L232.5,495.2 L231.5,495.6 L229.0,496.7 L227.0,497.3 L225.5,497.7 L224.0,497.8 L221.5,497.5 L220.0,497.5 L214.5,498.0 L212.0,497.8 L209.0,496.9 L206.0,496.3 L204.0,495.7 L203.0,495.2 L200.9,493.9 L198.0,493.1 L195.5,492.0 L194.0,491.7 L192.0,491.9 L189.5,491.8 L188.5,491.9 L188.0,492.2 L187.5,492.5 L186.0,493.9 L184.0,495.3 L182.0,496.4 L180.5,496.9 L179.5,497.1 L178.5,497.1 L177.0,496.8 L176.0,496.3 M196.6,530.9 L194.0,530.1 L193.4,529.9 L192.5,529.4 L192.2,528.9 L192.1,528.4 L192.2,527.9 L192.4,527.4 L192.9,526.9 L193.5,526.4 L194.4,525.9 L198.0,524.7 L199.5,524.5 L203.0,524.5 L204.5,524.7 L205.5,525.0 L206.3,525.4 L207.5,526.4 L208.8,527.9 L208.9,528.4 L208.8,528.9 L208.4,529.4 L206.2,530.9"/>
<path d="M226.0,496.5 L225.0,496.7 L224.0,496.7 L220.5,496.5 L215.5,496.8 L214.0,496.7 L212.0,496.4 L207.0,495.2 L205.5,494.7 L204.0,494.1 L202.0,492.7 L199.5,491.4 L199.1,490.9 L198.5,489.2 L198.0,488.7 L197.5,488.5 L197.0,488.5 L195.0,488.4 L194.0,488.4 L192.0,488.6 L191.0,488.5 L190.5,488.4 L189.5,487.9 L189.1,487.4 L188.9,486.9 L189.1,486.4 L189.5,486.0 L191.0,485.1 L192.6,483.4 L193.5,482.8 L195.0,482.5 L198.0,482.4 L199.5,482.1 L202.5,480.7 L205.0,479.0 L206.0,478.5 L212.5,476.0 L213.5,475.7 L214.5,475.5 L218.0,475.5 L221.0,475.1 L222.5,475.1 L232.0,475.7 L235.5,476.6 L238.0,477.0 L239.0,477.3 L240.0,477.8 L241.5,478.8 L243.3,480.4 L244.2,481.4 L245.0,482.7 L246.1,484.9 L246.4,485.9 L246.5,486.9 L246.4,487.4 L246.0,488.2 L245.5,488.8 L245.0,489.2 L243.0,490.4 L241.5,491.5 L240.0,492.3 L236.5,493.4 L232.5,494.1 L229.0,495.5 L226.0,496.5 M176.0,477.4 L176.7,476.9 L177.5,476.5 L178.5,476.3 L179.2,476.4 L180.0,476.8 L181.5,477.9 L183.3,479.9 L184.8,481.4 L185.8,482.9 L186.7,484.9 L186.9,485.9 L187.0,487.4 L186.8,488.9 L185.7,491.9 L185.2,492.9 L184.0,494.0 L182.0,495.3 L181.0,495.7 L180.0,496.0 L179.0,496.1 L178.0,496.0 L177.0,495.8 L176.0,495.3 M199.6,530.9 L196.0,529.4 L195.4,528.9 L195.1,528.4 L195.1,527.9 L195.4,527.4 L195.9,526.9 L196.7,526.4 L198.0,525.8 L199.5,525.5 L202.5,525.4 L204.0,525.5 L205.0,525.8 L205.9,526.4 L206.4,526.9 L206.7,527.4 L206.8,527.9 L206.9,528.4 L206.7,528.9 L205.8,529.9 L204.5,530.9"/>
<path d="M225.5,495.5 L224.5,495.7 L223.5,495.7 L220.5,495.6 L214.5,495.7 L213.0,495.5 L210.5,494.7 L208.0,494.2 L207.0,493.9 L204.9,492.9 L203.5,492.1 L202.0,491.0 L201.3,490.4 L201.0,489.8 L199.6,486.4 L199.4,485.9 L199.5,485.4 L200.0,484.9 L201.5,484.1 L202.0,483.8 L203.9,481.4 L205.0,480.3 L206.0,479.6 L212.5,477.0 L213.5,476.7 L214.5,476.5 L217.5,476.3 L221.0,475.8 L223.0,475.8 L225.0,475.9 L228.5,476.3 L232.0,476.5 L233.0,476.7 L235.5,477.5 L237.5,478.0 L238.5,478.3 L239.5,478.8 L240.5,479.4 L241.6,480.4 L243.7,483.4 L244.6,484.9 L244.9,485.9 L244.9,486.4 L244.7,486.9 L244.4,487.4 L243.8,487.9 L242.0,488.9 L240.0,490.5 L239.0,491.0 L236.0,492.2 L232.5,493.0 L229.5,494.3 L225.5,495.5 M176.0,478.8 L177.5,477.8 L178.5,477.5 L179.0,477.6 L180.0,478.0 L181.0,478.7 L181.5,479.2 L183.8,481.9 L184.3,482.9 L184.6,483.9 L184.8,485.4 L184.9,488.4 L184.7,490.4 L184.3,491.9 L183.7,492.9 L182.5,493.9 L181.5,494.5 L180.5,494.9 L179.0,495.2 L177.5,495.0 L176.0,494.4 M203.0,530.5 L202.5,530.5 L201.5,530.5 L200.0,529.8 L198.6,528.9 L198.1,528.4 L198.0,527.9 L198.2,527.4 L199.0,526.9 L200.0,526.6 L201.0,526.5 L203.0,526.5 L204.3,526.9 L204.9,527.4 L205.1,527.9 L205.1,528.4 L205.0,528.9 L204.6,529.4 L204.1,529.9 L203.5,530.3 L203.0,530.5"/>
<path d="M226.0,494.4 L225.0,494.7 L223.5,494.8 L214.5,494.8 L213.5,494.6 L211.0,493.8 L208.5,493.2 L207.5,492.8 L206.7,492.4 L204.3,490.9 L203.0,489.9 L202.5,489.3 L202.0,488.4 L201.8,487.4 L201.9,486.9 L202.1,486.4 L203.5,484.6 L204.8,482.4 L205.5,481.6 L206.2,480.9 L207.1,480.4 L212.0,478.2 L213.5,477.7 L214.5,477.5 L220.5,476.6 L223.5,476.4 L225.0,476.5 L228.0,477.0 L231.5,477.1 L233.0,477.5 L235.5,478.4 L237.5,479.1 L239.0,479.9 L240.0,480.7 L240.6,481.4 L242.0,483.4 L242.9,484.9 L243.0,485.4 L243.0,485.9 L242.7,486.4 L242.5,486.6 L238.9,489.4 L236.5,490.8 L235.0,491.3 L232.5,491.9 L230.0,493.1 L226.0,494.4 M176.0,480.2 L176.5,479.8 L177.5,479.3 L178.5,479.0 L179.5,479.1 L180.0,479.3 L181.0,480.1 L182.7,481.9 L183.2,482.9 L183.5,484.4 L183.6,486.9 L183.5,489.4 L183.3,490.9 L182.9,491.9 L182.6,492.4 L182.0,493.0 L181.5,493.4 L180.5,493.9 L179.0,494.3 L177.5,494.1 L176.5,493.7 L176.0,493.3"/>
<path d="M224.5,493.9 L221.0,494.1 L215.0,494.1 L214.0,493.9 L211.5,492.9 L209.0,492.2 L208.0,491.7 L206.5,490.8 L205.4,489.9 L204.4,488.9 L204.1,488.4 L203.9,487.9 L203.9,487.4 L204.2,486.4 L205.0,484.8 L206.0,483.6 L209.2,480.9 L209.9,480.4 L211.5,479.5 L213.0,478.9 L214.5,478.4 L218.5,477.6 L223.0,477.0 L224.0,477.0 L225.0,477.1 L228.0,477.8 L231.0,477.7 L232.5,478.0 L237.6,480.4 L238.9,481.4 L239.8,482.4 L240.7,483.9 L241.0,484.9 L240.9,485.4 L240.7,485.9 L239.9,486.9 L238.3,488.4 L236.8,489.4 L235.5,490.1 L232.5,490.9 L230.0,492.2 L229.0,492.6 L225.5,493.7 L224.5,493.9 M176.0,481.6 L176.5,481.1 L177.0,480.8 L178.0,480.6 L179.0,480.6 L179.5,480.7 L180.5,481.1 L181.5,482.0 L182.1,482.9 L182.4,483.9 L182.6,485.9 L182.1,490.4 L181.8,491.4 L181.5,491.9 L181.1,492.4 L180.5,492.9 L180.0,493.1 L179.5,493.2 L178.5,493.3 L178.0,493.3 L177.1,492.9 L176.5,492.5 L176.0,491.9"/>
<path d="M221.0,493.4 L215.0,493.3 L214.0,493.1 L209.8,491.4 L207.5,489.9 L206.5,488.9 L206.2,488.4 L205.8,487.4 L205.9,486.4 L206.1,485.9 L206.5,485.4 L207.0,485.0 L208.5,484.0 L209.0,483.5 L210.5,481.9 L211.5,480.9 L213.0,479.9 L214.0,479.5 L218.0,478.4 L221.0,478.1 L223.5,477.6 L225.0,477.7 L227.2,478.4 L228.0,478.6 L231.0,478.4 L232.5,478.7 L237.2,481.4 L238.3,482.4 L239.0,483.4 L239.4,484.4 L239.4,484.9 L239.1,485.9 L238.5,486.7 L237.8,487.4 L235.8,488.9 L234.5,489.4 L232.5,489.9 L229.5,491.6 L226.0,492.8 L224.5,493.2 L221.0,493.4 M176.0,483.7 L176.5,482.8 L177.0,482.4 L178.0,482.1 L179.5,482.2 L180.5,482.6 L181.0,483.1 L181.4,483.9 L181.5,484.4 L181.6,485.4 L181.5,486.4 L181.0,488.4 L180.8,490.4 L180.5,491.2 L180.0,491.8 L179.5,492.1 L179.0,492.2 L178.5,492.2 L178.0,492.1 L177.5,491.8 L177.0,491.4 L176.0,489.9"/>
<path d="M224.5,492.5 L221.0,492.8 L216.5,492.8 L215.5,492.8 L214.5,492.5 L211.0,491.0 L210.0,490.3 L209.0,489.4 L208.2,488.4 L207.9,487.9 L207.8,487.4 L207.9,486.9 L208.4,485.9 L210.5,483.4 L212.0,481.8 L213.5,480.8 L218.0,479.1 L219.0,479.0 L221.0,478.9 L223.5,478.3 L224.0,478.3 L225.0,478.4 L227.0,479.1 L228.0,479.3 L230.5,479.0 L231.5,479.1 L232.5,479.6 L236.0,481.7 L236.8,482.4 L237.2,482.9 L237.8,483.9 L237.9,484.4 L237.9,484.9 L237.8,485.4 L237.2,486.4 L235.5,487.9 L234.5,488.5 L232.0,489.3 L229.5,490.7 L228.5,491.2 L226.0,492.1 L224.5,492.5 M179.0,489.9 L178.5,490.2 L178.0,490.0 L177.5,489.5 L177.0,488.6 L176.8,487.9 L176.8,485.4 L177.0,484.4 L177.5,483.7 L178.0,483.5 L178.5,483.4 L179.5,483.5 L180.0,483.9 L180.4,484.4 L180.5,484.9 L180.4,485.9 L179.6,487.9 L179.0,489.9"/>
<path d="M223.0,491.9 L220.5,492.1 L217.0,492.2 L215.5,492.1 L214.5,491.8 L211.5,490.2 L211.0,489.8 L210.1,488.9 L209.5,487.9 L209.4,487.4 L209.4,486.9 L209.7,485.9 L210.3,484.9 L211.5,483.5 L213.0,482.2 L214.0,481.6 L218.0,479.9 L219.0,479.8 L221.0,479.7 L223.5,479.1 L224.5,479.0 L225.0,479.1 L227.0,479.8 L228.0,480.0 L230.5,479.8 L231.5,480.0 L232.3,480.4 L235.0,482.2 L235.8,482.9 L236.1,483.4 L236.2,483.9 L236.3,484.4 L236.2,484.9 L235.3,486.4 L234.3,487.4 L233.5,487.8 L232.0,488.4 L229.0,490.1 L226.5,491.2 L225.0,491.7 L223.0,491.9"/>
<path d="M221.0,491.4 L217.5,491.6 L216.0,491.5 L214.5,490.9 L212.5,489.7 L211.5,488.8 L211.0,488.1 L210.8,487.4 L210.8,486.4 L211.0,485.7 L211.4,484.9 L212.4,483.9 L213.5,483.1 L218.0,481.0 L219.0,480.8 L221.0,480.5 L224.0,479.9 L225.0,480.0 L227.5,480.7 L228.5,480.8 L230.0,480.7 L231.0,480.8 L232.0,481.4 L234.0,482.9 L234.4,483.4 L234.6,483.9 L234.6,484.4 L234.3,485.4 L233.6,486.4 L233.0,486.9 L231.5,487.7 L229.0,489.2 L226.3,490.4 L224.5,490.9 L221.0,491.4"/>
<path d="M222.5,490.4 L221.0,490.7 L217.5,490.8 L216.5,490.7 L215.5,490.4 L213.9,489.4 L212.8,488.4 L212.2,487.4 L212.2,486.4 L212.3,485.9 L212.5,485.4 L213.0,484.9 L213.5,484.5 L217.5,482.6 L219.0,482.0 L222.5,481.1 L224.5,481.0 L227.5,481.6 L230.0,481.8 L230.5,481.9 L231.0,482.2 L232.2,483.4 L232.6,483.9 L232.7,484.4 L232.7,484.9 L232.4,485.4 L232.0,485.9 L229.5,487.8 L228.5,488.4 L226.4,489.4 L224.9,489.9 L222.5,490.4"/>
<path d="M223.0,489.4 L221.5,489.8 L220.5,489.9 L218.0,489.8 L216.5,489.5 L215.4,488.9 L214.8,488.4 L214.3,487.9 L214.1,487.4 L214.0,486.9 L214.1,486.4 L214.4,485.9 L215.0,485.4 L216.5,484.7 L218.0,483.7 L219.0,483.3 L221.6,482.4 L223.0,482.2 L225.5,482.5 L227.1,482.9 L228.1,483.4 L228.5,483.9 L228.7,484.4 L228.9,485.4 L228.8,485.9 L228.6,486.4 L228.2,486.9 L227.7,487.4 L226.9,487.9 L223.0,489.4"/>
<path d="M222.0,489.0 L221.0,489.1 L220.0,489.1 L218.8,488.9 L218.0,488.7 L217.3,488.4 L216.6,487.9 L216.3,487.4 L216.4,486.9 L216.7,486.4 L218.5,484.7 L219.5,484.2 L221.5,483.4 L222.5,483.2 L223.5,483.3 L224.5,483.5 L225.5,483.9 L226.0,484.4 L226.2,484.9 L226.4,485.4 L226.4,485.9 L226.2,486.4 L225.8,486.9 L224.3,487.9 L223.0,488.6 L222.0,489.0"/>
<path d="M222.5,487.9 L221.5,488.2 L221.0,488.3 L220.5,488.2 L219.6,487.9 L219.0,487.4 L218.9,486.9 L219.0,486.4 L219.4,485.9 L219.9,485.4 L221.5,484.6 L222.5,484.3 L223.5,484.5 L224.1,484.9 L224.3,485.4 L224.3,485.9 L224.1,486.4 L223.7,486.9 L223.3,487.4 L222.5,487.9"/>
</g>
<path d="M217.5,482.2 C220,481.4 224,481.2 226.5,481.8" stroke="#111" stroke-width="1.3" fill="none" stroke-linecap="round"/>
<rect x="250" y="439" width="0.8" height="0.8" fill="#666"/>
<rect x="236" y="464" width="0.8" height="0.8" fill="#666"/>
<rect x="252" y="466" width="0.8" height="0.8" fill="#666"/>
<text x="76" y="415.4" font-size="12.8" text-anchor="start" fill="#000" textLength="66.8" lengthAdjust="spacingAndGlyphs" >Control vector</text>
<text x="193.7" y="415.4" font-size="12.8" text-anchor="start" fill="#000" textLength="66.5" lengthAdjust="spacingAndGlyphs" >Smad4 vector</text>
<text x="35.7" y="484.6" font-size="13.2" text-anchor="start" fill="#000" textLength="34" lengthAdjust="spacingAndGlyphs" transform="rotate(-90 35.7 484.6)" >7AAD</text>
<line x1="39.7" y1="537" x2="39.7" y2="431" stroke="#000" stroke-width="2.1" />
<polygon points="39.7,425.8 36.7,431.7 42.7,431.7" fill="#000"/>
<line x1="50.2" y1="542.6" x2="277" y2="542.6" stroke="#000" stroke-width="1.9" />
<polygon points="281.4,542.6 276,539.9 276,545.3" fill="#000"/>
<text x="144.2" y="555.5" font-size="13" text-anchor="start" fill="#000" textLength="54" lengthAdjust="spacingAndGlyphs" >Annexin V</text>
<line x1="321.2" y1="404.8" x2="321.2" y2="539.3000000000001" stroke="#000" stroke-width="2.2" />
<line x1="320.09999999999997" y1="538.2" x2="513.3" y2="538.2" stroke="#000" stroke-width="2.2" />
<line x1="315.2" y1="538.2" x2="321.2" y2="538.2" stroke="#000" stroke-width="1.8" />
<text x="315.7" y="541.9000000000001" font-size="9.9" text-anchor="end" fill="#000" textLength="5.1" lengthAdjust="spacingAndGlyphs" >0</text>
<line x1="315.2" y1="505.07500000000005" x2="321.2" y2="505.07500000000005" stroke="#000" stroke-width="1.8" />
<text x="315.7" y="508.77500000000003" font-size="9.9" text-anchor="end" fill="#000" textLength="10.2" lengthAdjust="spacingAndGlyphs" >10</text>
<line x1="315.2" y1="471.95000000000005" x2="321.2" y2="471.95000000000005" stroke="#000" stroke-width="1.8" />
<text x="315.7" y="475.65000000000003" font-size="9.9" text-anchor="end" fill="#000" textLength="10.2" lengthAdjust="spacingAndGlyphs" >20</text>
<line x1="315.2" y1="438.825" x2="321.2" y2="438.825" stroke="#000" stroke-width="1.8" />
<text x="315.7" y="442.525" font-size="9.9" text-anchor="end" fill="#000" textLength="10.2" lengthAdjust="spacingAndGlyphs" >30</text>
<line x1="315.2" y1="405.7" x2="321.2" y2="405.7" stroke="#000" stroke-width="1.8" />
<text x="315.7" y="409.4" font-size="9.9" text-anchor="end" fill="#000" textLength="10.2" lengthAdjust="spacingAndGlyphs" >40</text>
<line x1="351.1" y1="486.5" x2="351.1" y2="472.6" stroke="#000" stroke-width="1.6" />
<line x1="347.1" y1="472.6" x2="355.1" y2="472.6" stroke="#000" stroke-width="1.6" />
<rect x="339.55" y="487.45" width="23.1" height="50.75000000000004" fill="#fff" stroke="#000" stroke-width="1.9"/>
<line x1="387.05" y1="452.4" x2="387.05" y2="440.5" stroke="#000" stroke-width="1.6" />
<line x1="383.05" y1="440.5" x2="391.05" y2="440.5" stroke="#000" stroke-width="1.6" />
<rect x="373.8" y="452.4" width="26.5" height="85.80000000000007" fill="#000"/>
<line x1="447.4" y1="484.4" x2="447.4" y2="463.4" stroke="#000" stroke-width="1.6" />
<line x1="443.4" y1="463.4" x2="451.4" y2="463.4" stroke="#000" stroke-width="1.6" />
<rect x="434.95" y="485.34999999999997" width="24.900000000000013" height="52.850000000000065" fill="#fff" stroke="#000" stroke-width="1.9"/>
<line x1="483.05" y1="470.2" x2="483.05" y2="450.9" stroke="#000" stroke-width="1.6" />
<line x1="479.05" y1="450.9" x2="487.05" y2="450.9" stroke="#000" stroke-width="1.6" />
<rect x="470.1" y="470.2" width="25.899999999999977" height="68.00000000000006" fill="#000"/>
<line x1="369" y1="538.2" x2="369" y2="543.2" stroke="#000" stroke-width="1.9" />
<text x="370.8" y="553.5" font-size="11.5" text-anchor="middle" fill="#000" textLength="46" lengthAdjust="spacingAndGlyphs" >Untreated</text>
<line x1="465.3" y1="538.2" x2="465.3" y2="543.2" stroke="#000" stroke-width="1.9" />
<text x="465.8" y="553.5" font-size="11.5" text-anchor="middle" fill="#000" textLength="35.5" lengthAdjust="spacingAndGlyphs" >Inhibitor</text>
<text x="386.7" y="432.4" font-size="15.8" text-anchor="middle" fill="#000" stroke="#000" stroke-width="0.3">*</text>
<rect x="423.3" y="401.8" width="15.7" height="8.6" fill="#fff" stroke="#000" stroke-width="2"/>
<rect x="422.3" y="416.3" width="17.7" height="11" fill="#000"/>
<text x="443.6" y="410.5" font-size="13.2" text-anchor="start" fill="#000" textLength="64" lengthAdjust="spacingAndGlyphs" >Control vector</text>
<text x="443.6" y="426.4" font-size="13.2" text-anchor="start" fill="#000" textLength="62.5" lengthAdjust="spacingAndGlyphs" >Smad4 vector</text>
<text x="299.2" y="512.7" font-size="11" text-anchor="start" fill="#000" textLength="104.3" lengthAdjust="spacingAndGlyphs" transform="rotate(-90 299.2 512.7)" >Early apoptosis (%)</text>
</svg>
</body></html>
